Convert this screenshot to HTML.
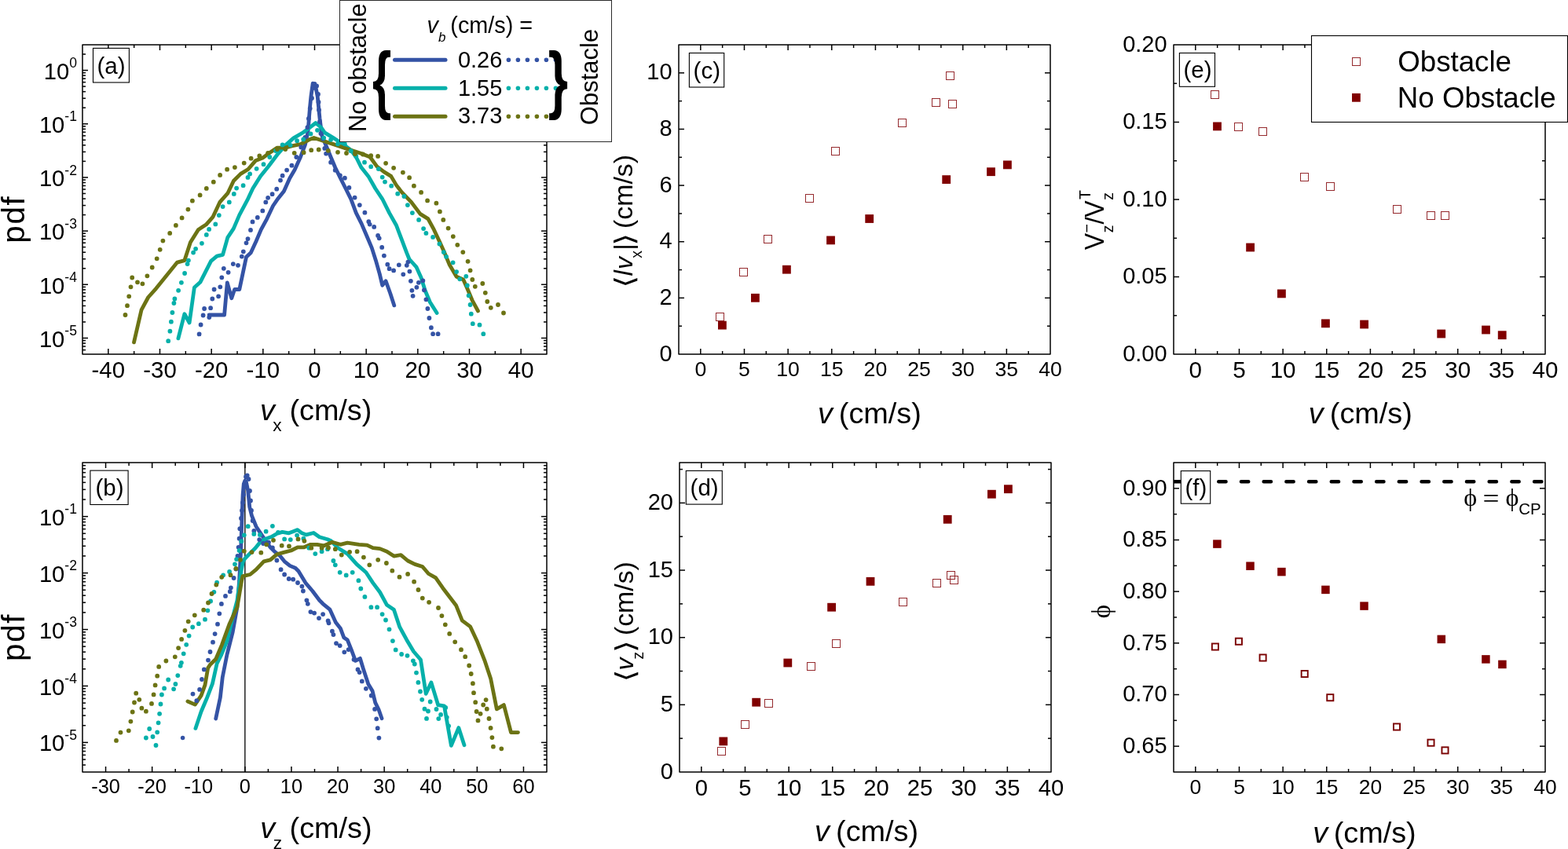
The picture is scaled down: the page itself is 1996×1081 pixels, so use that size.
<!DOCTYPE html>
<html><head><meta charset="utf-8"><title>figure</title>
<style>html,body{margin:0;padding:0;background:#fff;}svg{display:block;}</style>
</head><body>
<svg width="1996" height="1081" viewBox="0 0 1996 1081">
<rect width="100%" height="100%" fill="#fff"/>
<defs>
<clipPath id="cf"><rect x="1494" y="589" width="473" height="394"/></clipPath>
<clipPath id="ca"><rect x="105" y="57" width="591" height="394"/></clipPath>
<clipPath id="cb"><rect x="105" y="589" width="591" height="394"/></clipPath>
</defs>
<polyline points="266.1,401 285.6,401 289.3,359.8 294.8,379.8 298.6,368.5 304.8,368.5 313.5,327.3 319.3,321.8 326,307.3 332.3,292.4 339.8,278.6 347.6,262 354,252.7 361.4,243.5 368.8,226.9 375.1,216.3 382.5,200 388.4,184.4 392,168 394.5,136.6 395.9,122.8 398.2,106.1 400.5,108.9 402.4,113.5 404.2,122.8 405.6,136.6 407,150.5 408.4,161.6 410,173.3 415.6,186.7 421.1,200 426.7,213.3 433.3,226.7 440,240 446.7,253.3 453.3,271.1 460,284.4 466.7,300 473.3,315.6 478.9,333.3 483.3,348.9 486.7,363.3 491.1,357.8 496.7,373.3 501.8,388.9" fill="none" stroke="#3453a5" stroke-width="4.8" stroke-linecap="round" stroke-linejoin="round" clip-path="url(#ca)"/>
<polyline points="226.9,430.9 234.9,399.7 241.1,411 247.4,366 254.9,359.3 268.6,332.3 276.1,326.1 283.6,324.3 289.8,302.3 297.3,291.1 304.8,273.6 314.8,254.9 321.8,240 331.5,224.4 341.8,211.8 352.9,197 364,184.4 373.6,175.9 386.2,168.5 394.7,162.1 401.9,156.5 409,162.5 413.3,168.9 424.4,175.6 437.8,184.4 446.7,191.1 453.3,200 460,213.3 468.9,224.4 477.8,240 486.7,253.3 495.6,271.1 504.4,286.7 511.1,304.4 517.8,322.2 521,330 529.9,339.8 536.1,353.5 541.1,369.8 547.4,384.8 556.1,398.5" fill="none" stroke="#05b0aa" stroke-width="4.8" stroke-linecap="round" stroke-linejoin="round" clip-path="url(#ca)"/>
<polyline points="170.5,435.9 180,394.7 188.7,378.5 198.7,367.3 214.9,347.3 225.6,334.1 234.9,331.6 242.4,308.6 252.4,292.4 262.3,286.1 271.1,276.1 279.8,257.4 289.8,246.2 297.4,230.3 306.3,221.4 315.9,215.5 325.5,204.4 334.4,201.1 341.8,195.5 352.9,188.1 363.3,188.1 371.4,185.9 382.5,183.7 393.6,177.8 399.6,175.5 413.3,180 426.7,184.4 440,188.9 453.3,193.3 460,195.6 471.1,200 480,212.2 488.9,218.9 497.8,224.4 504.4,235.6 511.1,244.4 523.6,257.4 534.9,272.4 544.9,278.6 552.4,292.4 559.9,308.6 566.1,322.3 572.3,337.3 581.1,352.3 589.8,356 594.8,367.3 601.1,382.3 608.5,396" fill="none" stroke="#6c7314" stroke-width="4.8" stroke-linecap="round" stroke-linejoin="round" clip-path="url(#ca)"/>
<path d="M253.6 425.4h0M255.6 413.5h0M258.6 401.5h0M260.1 393h0M266.3 404h0M268.1 392.2h0M270.3 380.5h0M272.6 368.5h0M278.1 377.3h0M280.3 365.3h0M282.3 353.3h0M284.8 341.8h0M290.6 346.8h0M296.8 336.1h0M303 337.8h0M307.8 326.6h0M309.8 320.3h0M313.5 309.3h0M315.5 304.1h0M319 292.9h0M321.5 282.4h0M327.8 276.9h0M334.3 268.4h0M338.3 257.4h0M341.1 251.8h0M346.6 247.2h0M352.2 240.7h0M357 229.6h0M359.6 223.7h0M365.1 216.6h0M371.4 210.7h0M377.3 200h0M383.3 187.4h0M388.4 174.8h0M391.4 162.2h0M392.9 151h0M394.7 138.1h0M397 125h0M398.5 112h0M400.5 107h0M403.1 109.4h0M405 120h0M405.5 130h0M406 140h0M407 155h0M408.4 170h0M411.1 176.7h0M413.3 188.9h0M415.1 195.6h0M421.1 206.7h0M426.7 216.7h0M432.9 223.3h0M438.9 226.7h0M444.4 238.9h0M451.6 251.6h0M457.8 261.1h0M464.4 270.7h0M469.3 282.2h0M470.7 285.6h0M476.2 288.9h0M481.1 300h0M482.7 303.3h0M486.2 314.9h0M488.9 325.6h0M493.3 336.7h0M495.6 342.2h0M501.1 344.4h0M507.8 337.3h0M513.3 349.3h0M517.8 337.8h0M519.4 333.6h0M521.4 345.6h0M522.9 357.8h0M524.4 369.8h0M525.6 376.8h0M530.4 365.8h0M532.9 359.8h0M538.4 357.3h0M539.9 369.3h0M542.4 381.3h0M544.4 393h0M546.4 405h0M548.9 417.2h0M551.1 425.2h0M557.6 425.2h0" fill="none" stroke="#3453a5" stroke-width="5.8" stroke-linecap="round" clip-path="url(#ca)"/>
<path d="M214.2 434.2h0M216.4 421.7h0M217.9 409.7h0M219.4 398h0M221.4 386h0M222.4 380.5h0M227.1 369.8h0M230.9 359.8h0M235.1 348h0M238.6 336.1h0M239.9 331.6h0M246.1 321.6h0M249.1 316.8h0M256.9 309.8h0M262.8 298.9h0M266.1 291.9h0M274.3 285.4h0M278.8 274.1h0M283.6 263.1h0M291.8 257.4h0M297.8 246.9h0M301.1 239.6h0M309.6 236.2h0M315.5 225.9h0M318.1 221.4h0M326.6 214.8h0M335.5 209.2h0M343.3 200h0M351 192h0M359.6 184.4h0M369.6 184.8h0M378.1 179.2h0M386.2 177.4h0M395.5 170.4h0M404 165.8h0M412.2 175.6h0M421.1 177.8h0M430 183.3h0M438.9 183.3h0M446.7 192.2h0M453.3 198.9h0M464 206.7h0M472.2 212.2h0M481.8 215.1h0M486.7 225.6h0M490 231.6h0M498.2 236.7h0M506.2 246.7h0M514.4 250h0M518.9 261.1h0M524.9 271.1h0M533.1 279.9h0M539.1 291.1h0M542.4 296.9h0M551.1 301.9h0M559.4 310.6h0M564.8 321.1h0M568.1 326.8h0M576.6 334.3h0M581.1 346.1h0M585.3 355.3h0M593.3 351.8h0M594.8 363.5h0M596.6 376.3h0M598.6 388h0M599.8 399.7h0M601.8 412.2h0M610.5 413.7h0M615.3 425.2h0" fill="none" stroke="#05b0aa" stroke-width="5.8" stroke-linecap="round" clip-path="url(#ca)"/>
<path d="M159.5 401h0M162 389.2h0M164.2 377.3h0M166.5 365.3h0M168.2 353.5h0M175 359.3h0M181.4 361.3h0M187.4 351.3h0M193.7 340.5h0M199.7 329.3h0M203.7 317.8h0M207.4 306.6h0M216.2 296.9h0M223.9 286.9h0M231.6 277.4h0M239.4 266.6h0M244.9 255.7h0M254.6 248.4h0M262.8 239.9h0M271.8 231.7h0M280.1 222.9h0M289.1 215.7h0M298.9 213.1h0M310.7 207.6h0M319.6 201.7h0M330.3 198.5h0M341.1 194.8h0M352.9 190h0M363.3 190h0M374.7 194.8h0M386.6 194.2h0M396.2 191.2h0M405.7 190.5h0M417.8 191.8h0M430 193.8h0M441 195h0M452 196h0M462 196.5h0M472.2 198.2h0M481.1 198.9h0M491.1 207.8h0M501.1 213.8h0M512.9 219.6h0M521.1 226.2h0M526.9 236.7h0M536.1 244.9h0M544.1 255.4h0M555.4 258.7h0M559.9 269.4h0M564.3 279.9h0M570.6 290.6h0M576.8 301.1h0M582.3 311.8h0M589.3 321.1h0M595.6 332.8h0M598.6 344.3h0M601.3 356h0M604.8 364.8h0M614.3 361h0M617.8 372.8h0M620.3 384h0M624.8 391.8h0M634 388h0M641 398.5h0" fill="none" stroke="#6c7314" stroke-width="5.8" stroke-linecap="round" clip-path="url(#ca)"/>
<rect x="105" y="57" width="591" height="394" fill="none" stroke="#000" stroke-width="1.5" stroke-linejoin="round"/>
<line x1="137.83" y1="451" x2="137.83" y2="444" stroke="#000" stroke-width="1.5"/>
<line x1="137.83" y1="57" x2="137.83" y2="64" stroke="#000" stroke-width="1.5"/>
<line x1="203.5" y1="451" x2="203.5" y2="444" stroke="#000" stroke-width="1.5"/>
<line x1="203.5" y1="57" x2="203.5" y2="64" stroke="#000" stroke-width="1.5"/>
<line x1="269.17" y1="451" x2="269.17" y2="444" stroke="#000" stroke-width="1.5"/>
<line x1="269.17" y1="57" x2="269.17" y2="64" stroke="#000" stroke-width="1.5"/>
<line x1="334.83" y1="451" x2="334.83" y2="444" stroke="#000" stroke-width="1.5"/>
<line x1="334.83" y1="57" x2="334.83" y2="64" stroke="#000" stroke-width="1.5"/>
<line x1="400.5" y1="451" x2="400.5" y2="444" stroke="#000" stroke-width="1.5"/>
<line x1="400.5" y1="57" x2="400.5" y2="64" stroke="#000" stroke-width="1.5"/>
<line x1="466.17" y1="451" x2="466.17" y2="444" stroke="#000" stroke-width="1.5"/>
<line x1="466.17" y1="57" x2="466.17" y2="64" stroke="#000" stroke-width="1.5"/>
<line x1="531.83" y1="451" x2="531.83" y2="444" stroke="#000" stroke-width="1.5"/>
<line x1="531.83" y1="57" x2="531.83" y2="64" stroke="#000" stroke-width="1.5"/>
<line x1="597.5" y1="451" x2="597.5" y2="444" stroke="#000" stroke-width="1.5"/>
<line x1="597.5" y1="57" x2="597.5" y2="64" stroke="#000" stroke-width="1.5"/>
<line x1="663.17" y1="451" x2="663.17" y2="444" stroke="#000" stroke-width="1.5"/>
<line x1="663.17" y1="57" x2="663.17" y2="64" stroke="#000" stroke-width="1.5"/>
<line x1="170.67" y1="451" x2="170.67" y2="447" stroke="#000" stroke-width="1.5"/>
<line x1="170.67" y1="57" x2="170.67" y2="61" stroke="#000" stroke-width="1.5"/>
<line x1="236.33" y1="451" x2="236.33" y2="447" stroke="#000" stroke-width="1.5"/>
<line x1="236.33" y1="57" x2="236.33" y2="61" stroke="#000" stroke-width="1.5"/>
<line x1="302" y1="451" x2="302" y2="447" stroke="#000" stroke-width="1.5"/>
<line x1="302" y1="57" x2="302" y2="61" stroke="#000" stroke-width="1.5"/>
<line x1="367.67" y1="451" x2="367.67" y2="447" stroke="#000" stroke-width="1.5"/>
<line x1="367.67" y1="57" x2="367.67" y2="61" stroke="#000" stroke-width="1.5"/>
<line x1="433.33" y1="451" x2="433.33" y2="447" stroke="#000" stroke-width="1.5"/>
<line x1="433.33" y1="57" x2="433.33" y2="61" stroke="#000" stroke-width="1.5"/>
<line x1="499" y1="451" x2="499" y2="447" stroke="#000" stroke-width="1.5"/>
<line x1="499" y1="57" x2="499" y2="61" stroke="#000" stroke-width="1.5"/>
<line x1="564.67" y1="451" x2="564.67" y2="447" stroke="#000" stroke-width="1.5"/>
<line x1="564.67" y1="57" x2="564.67" y2="61" stroke="#000" stroke-width="1.5"/>
<line x1="630.33" y1="451" x2="630.33" y2="447" stroke="#000" stroke-width="1.5"/>
<line x1="630.33" y1="57" x2="630.33" y2="61" stroke="#000" stroke-width="1.5"/>
<line x1="105" y1="430.47" x2="112" y2="430.47" stroke="#000" stroke-width="1.5"/>
<line x1="696" y1="430.47" x2="689" y2="430.47" stroke="#000" stroke-width="1.5"/>
<line x1="105" y1="362.29" x2="112" y2="362.29" stroke="#000" stroke-width="1.5"/>
<line x1="696" y1="362.29" x2="689" y2="362.29" stroke="#000" stroke-width="1.5"/>
<line x1="105" y1="294.1" x2="112" y2="294.1" stroke="#000" stroke-width="1.5"/>
<line x1="696" y1="294.1" x2="689" y2="294.1" stroke="#000" stroke-width="1.5"/>
<line x1="105" y1="225.91" x2="112" y2="225.91" stroke="#000" stroke-width="1.5"/>
<line x1="696" y1="225.91" x2="689" y2="225.91" stroke="#000" stroke-width="1.5"/>
<line x1="105" y1="157.72" x2="112" y2="157.72" stroke="#000" stroke-width="1.5"/>
<line x1="696" y1="157.72" x2="689" y2="157.72" stroke="#000" stroke-width="1.5"/>
<line x1="105" y1="89.53" x2="112" y2="89.53" stroke="#000" stroke-width="1.5"/>
<line x1="696" y1="89.53" x2="689" y2="89.53" stroke="#000" stroke-width="1.5"/>
<line x1="105" y1="445.6" x2="109" y2="445.6" stroke="#000" stroke-width="1.5"/>
<line x1="696" y1="445.6" x2="692" y2="445.6" stroke="#000" stroke-width="1.5"/>
<line x1="105" y1="441.04" x2="109" y2="441.04" stroke="#000" stroke-width="1.5"/>
<line x1="696" y1="441.04" x2="692" y2="441.04" stroke="#000" stroke-width="1.5"/>
<line x1="105" y1="437.08" x2="109" y2="437.08" stroke="#000" stroke-width="1.5"/>
<line x1="696" y1="437.08" x2="692" y2="437.08" stroke="#000" stroke-width="1.5"/>
<line x1="105" y1="433.59" x2="109" y2="433.59" stroke="#000" stroke-width="1.5"/>
<line x1="696" y1="433.59" x2="692" y2="433.59" stroke="#000" stroke-width="1.5"/>
<line x1="105" y1="409.95" x2="109" y2="409.95" stroke="#000" stroke-width="1.5"/>
<line x1="696" y1="409.95" x2="692" y2="409.95" stroke="#000" stroke-width="1.5"/>
<line x1="105" y1="397.94" x2="109" y2="397.94" stroke="#000" stroke-width="1.5"/>
<line x1="696" y1="397.94" x2="692" y2="397.94" stroke="#000" stroke-width="1.5"/>
<line x1="105" y1="389.42" x2="109" y2="389.42" stroke="#000" stroke-width="1.5"/>
<line x1="696" y1="389.42" x2="692" y2="389.42" stroke="#000" stroke-width="1.5"/>
<line x1="105" y1="382.81" x2="109" y2="382.81" stroke="#000" stroke-width="1.5"/>
<line x1="696" y1="382.81" x2="692" y2="382.81" stroke="#000" stroke-width="1.5"/>
<line x1="105" y1="377.41" x2="109" y2="377.41" stroke="#000" stroke-width="1.5"/>
<line x1="696" y1="377.41" x2="692" y2="377.41" stroke="#000" stroke-width="1.5"/>
<line x1="105" y1="372.85" x2="109" y2="372.85" stroke="#000" stroke-width="1.5"/>
<line x1="696" y1="372.85" x2="692" y2="372.85" stroke="#000" stroke-width="1.5"/>
<line x1="105" y1="368.89" x2="109" y2="368.89" stroke="#000" stroke-width="1.5"/>
<line x1="696" y1="368.89" x2="692" y2="368.89" stroke="#000" stroke-width="1.5"/>
<line x1="105" y1="365.41" x2="109" y2="365.41" stroke="#000" stroke-width="1.5"/>
<line x1="696" y1="365.41" x2="692" y2="365.41" stroke="#000" stroke-width="1.5"/>
<line x1="105" y1="341.76" x2="109" y2="341.76" stroke="#000" stroke-width="1.5"/>
<line x1="696" y1="341.76" x2="692" y2="341.76" stroke="#000" stroke-width="1.5"/>
<line x1="105" y1="329.75" x2="109" y2="329.75" stroke="#000" stroke-width="1.5"/>
<line x1="696" y1="329.75" x2="692" y2="329.75" stroke="#000" stroke-width="1.5"/>
<line x1="105" y1="321.23" x2="109" y2="321.23" stroke="#000" stroke-width="1.5"/>
<line x1="696" y1="321.23" x2="692" y2="321.23" stroke="#000" stroke-width="1.5"/>
<line x1="105" y1="314.62" x2="109" y2="314.62" stroke="#000" stroke-width="1.5"/>
<line x1="696" y1="314.62" x2="692" y2="314.62" stroke="#000" stroke-width="1.5"/>
<line x1="105" y1="309.22" x2="109" y2="309.22" stroke="#000" stroke-width="1.5"/>
<line x1="696" y1="309.22" x2="692" y2="309.22" stroke="#000" stroke-width="1.5"/>
<line x1="105" y1="304.66" x2="109" y2="304.66" stroke="#000" stroke-width="1.5"/>
<line x1="696" y1="304.66" x2="692" y2="304.66" stroke="#000" stroke-width="1.5"/>
<line x1="105" y1="300.71" x2="109" y2="300.71" stroke="#000" stroke-width="1.5"/>
<line x1="696" y1="300.71" x2="692" y2="300.71" stroke="#000" stroke-width="1.5"/>
<line x1="105" y1="297.22" x2="109" y2="297.22" stroke="#000" stroke-width="1.5"/>
<line x1="696" y1="297.22" x2="692" y2="297.22" stroke="#000" stroke-width="1.5"/>
<line x1="105" y1="273.57" x2="109" y2="273.57" stroke="#000" stroke-width="1.5"/>
<line x1="696" y1="273.57" x2="692" y2="273.57" stroke="#000" stroke-width="1.5"/>
<line x1="105" y1="261.56" x2="109" y2="261.56" stroke="#000" stroke-width="1.5"/>
<line x1="696" y1="261.56" x2="692" y2="261.56" stroke="#000" stroke-width="1.5"/>
<line x1="105" y1="253.04" x2="109" y2="253.04" stroke="#000" stroke-width="1.5"/>
<line x1="696" y1="253.04" x2="692" y2="253.04" stroke="#000" stroke-width="1.5"/>
<line x1="105" y1="246.44" x2="109" y2="246.44" stroke="#000" stroke-width="1.5"/>
<line x1="696" y1="246.44" x2="692" y2="246.44" stroke="#000" stroke-width="1.5"/>
<line x1="105" y1="241.04" x2="109" y2="241.04" stroke="#000" stroke-width="1.5"/>
<line x1="696" y1="241.04" x2="692" y2="241.04" stroke="#000" stroke-width="1.5"/>
<line x1="105" y1="236.47" x2="109" y2="236.47" stroke="#000" stroke-width="1.5"/>
<line x1="696" y1="236.47" x2="692" y2="236.47" stroke="#000" stroke-width="1.5"/>
<line x1="105" y1="232.52" x2="109" y2="232.52" stroke="#000" stroke-width="1.5"/>
<line x1="696" y1="232.52" x2="692" y2="232.52" stroke="#000" stroke-width="1.5"/>
<line x1="105" y1="229.03" x2="109" y2="229.03" stroke="#000" stroke-width="1.5"/>
<line x1="696" y1="229.03" x2="692" y2="229.03" stroke="#000" stroke-width="1.5"/>
<line x1="105" y1="205.38" x2="109" y2="205.38" stroke="#000" stroke-width="1.5"/>
<line x1="696" y1="205.38" x2="692" y2="205.38" stroke="#000" stroke-width="1.5"/>
<line x1="105" y1="193.38" x2="109" y2="193.38" stroke="#000" stroke-width="1.5"/>
<line x1="696" y1="193.38" x2="692" y2="193.38" stroke="#000" stroke-width="1.5"/>
<line x1="105" y1="184.86" x2="109" y2="184.86" stroke="#000" stroke-width="1.5"/>
<line x1="696" y1="184.86" x2="692" y2="184.86" stroke="#000" stroke-width="1.5"/>
<line x1="105" y1="178.25" x2="109" y2="178.25" stroke="#000" stroke-width="1.5"/>
<line x1="696" y1="178.25" x2="692" y2="178.25" stroke="#000" stroke-width="1.5"/>
<line x1="105" y1="172.85" x2="109" y2="172.85" stroke="#000" stroke-width="1.5"/>
<line x1="696" y1="172.85" x2="692" y2="172.85" stroke="#000" stroke-width="1.5"/>
<line x1="105" y1="168.28" x2="109" y2="168.28" stroke="#000" stroke-width="1.5"/>
<line x1="696" y1="168.28" x2="692" y2="168.28" stroke="#000" stroke-width="1.5"/>
<line x1="105" y1="164.33" x2="109" y2="164.33" stroke="#000" stroke-width="1.5"/>
<line x1="696" y1="164.33" x2="692" y2="164.33" stroke="#000" stroke-width="1.5"/>
<line x1="105" y1="160.84" x2="109" y2="160.84" stroke="#000" stroke-width="1.5"/>
<line x1="696" y1="160.84" x2="692" y2="160.84" stroke="#000" stroke-width="1.5"/>
<line x1="105" y1="137.2" x2="109" y2="137.2" stroke="#000" stroke-width="1.5"/>
<line x1="696" y1="137.2" x2="692" y2="137.2" stroke="#000" stroke-width="1.5"/>
<line x1="105" y1="125.19" x2="109" y2="125.19" stroke="#000" stroke-width="1.5"/>
<line x1="696" y1="125.19" x2="692" y2="125.19" stroke="#000" stroke-width="1.5"/>
<line x1="105" y1="116.67" x2="109" y2="116.67" stroke="#000" stroke-width="1.5"/>
<line x1="696" y1="116.67" x2="692" y2="116.67" stroke="#000" stroke-width="1.5"/>
<line x1="105" y1="110.06" x2="109" y2="110.06" stroke="#000" stroke-width="1.5"/>
<line x1="696" y1="110.06" x2="692" y2="110.06" stroke="#000" stroke-width="1.5"/>
<line x1="105" y1="104.66" x2="109" y2="104.66" stroke="#000" stroke-width="1.5"/>
<line x1="696" y1="104.66" x2="692" y2="104.66" stroke="#000" stroke-width="1.5"/>
<line x1="105" y1="100.1" x2="109" y2="100.1" stroke="#000" stroke-width="1.5"/>
<line x1="696" y1="100.1" x2="692" y2="100.1" stroke="#000" stroke-width="1.5"/>
<line x1="105" y1="96.14" x2="109" y2="96.14" stroke="#000" stroke-width="1.5"/>
<line x1="696" y1="96.14" x2="692" y2="96.14" stroke="#000" stroke-width="1.5"/>
<line x1="105" y1="92.65" x2="109" y2="92.65" stroke="#000" stroke-width="1.5"/>
<line x1="696" y1="92.65" x2="692" y2="92.65" stroke="#000" stroke-width="1.5"/>
<line x1="105" y1="69.01" x2="109" y2="69.01" stroke="#000" stroke-width="1.5"/>
<line x1="696" y1="69.01" x2="692" y2="69.01" stroke="#000" stroke-width="1.5"/>
<text x="137.83" y="481.1" font-size="29.4" text-anchor="middle" font-family="'Liberation Sans', Arial, Helvetica, sans-serif">-40</text>
<text x="203.5" y="481.1" font-size="29.4" text-anchor="middle" font-family="'Liberation Sans', Arial, Helvetica, sans-serif">-30</text>
<text x="269.17" y="481.1" font-size="29.4" text-anchor="middle" font-family="'Liberation Sans', Arial, Helvetica, sans-serif">-20</text>
<text x="334.83" y="481.1" font-size="29.4" text-anchor="middle" font-family="'Liberation Sans', Arial, Helvetica, sans-serif">-10</text>
<text x="400.5" y="481.1" font-size="29.4" text-anchor="middle" font-family="'Liberation Sans', Arial, Helvetica, sans-serif">0</text>
<text x="466.17" y="481.1" font-size="29.4" text-anchor="middle" font-family="'Liberation Sans', Arial, Helvetica, sans-serif">10</text>
<text x="531.83" y="481.1" font-size="29.4" text-anchor="middle" font-family="'Liberation Sans', Arial, Helvetica, sans-serif">20</text>
<text x="597.5" y="481.1" font-size="29.4" text-anchor="middle" font-family="'Liberation Sans', Arial, Helvetica, sans-serif">30</text>
<text x="663.17" y="481.1" font-size="29.4" text-anchor="middle" font-family="'Liberation Sans', Arial, Helvetica, sans-serif">40</text>
<text x="98" y="441.77" font-size="29.2" text-anchor="end" font-family="'Liberation Sans', Arial, Helvetica, sans-serif">10<tspan dy="-14.6" font-size="17.6">-5</tspan></text>
<text x="98" y="373.59" font-size="29.2" text-anchor="end" font-family="'Liberation Sans', Arial, Helvetica, sans-serif">10<tspan dy="-14.6" font-size="17.6">-4</tspan></text>
<text x="98" y="305.4" font-size="29.2" text-anchor="end" font-family="'Liberation Sans', Arial, Helvetica, sans-serif">10<tspan dy="-14.6" font-size="17.6">-3</tspan></text>
<text x="98" y="237.21" font-size="29.2" text-anchor="end" font-family="'Liberation Sans', Arial, Helvetica, sans-serif">10<tspan dy="-14.6" font-size="17.6">-2</tspan></text>
<text x="98" y="169.02" font-size="29.2" text-anchor="end" font-family="'Liberation Sans', Arial, Helvetica, sans-serif">10<tspan dy="-14.6" font-size="17.6">-1</tspan></text>
<text x="98" y="100.83" font-size="29.2" text-anchor="end" font-family="'Liberation Sans', Arial, Helvetica, sans-serif">10<tspan dy="-14.6" font-size="17.6">0</tspan></text>
<rect x="118.5" y="61.4" width="45.9" height="43.6" fill="#fff" stroke="#000" stroke-width="1.1"/>
<text x="141.5" y="93.8" font-size="29.5" text-anchor="middle" font-family="'Liberation Sans', Arial, Helvetica, sans-serif">(a)</text>
<line x1="311.85" y1="589" x2="311.85" y2="983" stroke="#000" stroke-width="1.3"/>
<polyline points="274.7,915.1 280.4,887.9 283.3,862.1 289,833.4 296.2,804.8 301.9,773.2 304.6,739.8 306.6,701 308,659.4 309.1,630 310.3,616 311.8,612 313.5,614 315.7,624.7 317.7,645.5 320.5,656.6 326.1,670.5 331.6,678.8 337.2,687.1 344.1,696.8 349.6,702.4 356.6,707.9 362.1,714.8 369.1,720.4 376,723.2 380,727.3 388.9,742.1 397.8,752.5 406.6,764.3 411.1,768.8 420,776.2 427.4,792.5 433.3,799.9 437.7,811.7 442.2,814.7 448.1,829.5 452.5,841.3 458.4,838.3 462.9,853.1 468.8,870.9 474.1,879.8 477.7,894.6 482.1,903.5 486,914.7" fill="none" stroke="#3453a5" stroke-width="4.8" stroke-linecap="round" stroke-linejoin="round" clip-path="url(#cb)"/>
<polyline points="248.9,927.4 256.1,906 263.2,889.3 270.4,870.7 276.1,844.9 281.9,833.4 289,816.2 296.2,786.1 301.9,764.6 305.3,739.8 307,727 309.4,714.8 312.2,710.7 317.7,705.1 324.7,698.2 331.6,689.9 337.2,686.4 345.5,683.6 352.4,679.5 359.4,677.4 367.7,678.8 373.2,676.7 378.8,674.6 384.3,678.8 389.9,680.9 399.2,678.5 406.6,683.8 417,686.8 421.4,688.8 430.3,697.7 442.2,705.1 454,718.4 465.9,728.8 474.7,742.1 483.6,754 492.5,770.3 501.4,776.2 508.8,798.4 517.7,814.7 526.5,829.5 535.5,840 542.2,883.3 548.9,868.9 557.7,897.7 565.5,898.8 574.4,949.3 583.8,926.6 591,948.8" fill="none" stroke="#05b0aa" stroke-width="4.8" stroke-linecap="round" stroke-linejoin="round" clip-path="url(#cb)"/>
<polyline points="238.9,893 248.3,897.1 256.1,885.6 261,872.1 264.7,850.6 267.5,846.3 274.7,839.2 282.4,821.1 291.9,794.7 301.9,773.2 305,755 307.5,740 309,733.5 312.2,732.9 318.4,731.5 326.1,725.2 335.8,714.8 344.1,712.8 352.4,705.8 362.1,703.1 370.5,701 378.8,696.8 387.1,696.8 395.4,693.3 403.7,693.3 412.6,694.8 422.9,690.3 433.3,693.3 442.2,691.2 457,693.3 467.3,694.2 474.7,697.7 483.6,698.6 492.5,702.2 501.4,708.1 510.3,706.6 519.1,714 528,718.4 537.8,721.5 545.5,730.5 554.6,735.7 563.7,748.7 571.5,759 580.5,770.7 588.3,790.1 598.7,797.9 607.7,817.3 616.8,840.6 624.6,863.9 632.3,902.8 641.4,897.6 650.5,932.6 659.5,932.6" fill="none" stroke="#6c7314" stroke-width="4.8" stroke-linecap="round" stroke-linejoin="round" clip-path="url(#cb)"/>
<path d="M245.5 883.6h0M250.3 892.2h0M254.1 877.9h0M256.9 865h0M259.8 852.4h0M265 840.6h0M267.5 830h0M271 817.7h0M273.6 807.1h0M277 794.7h0M279.3 781.3h0M281.9 768.9h0M287 758.9h0M292.8 753.2h0M293.9 748.3h0M297.6 736h0M300.4 724.6h0M302.5 707.9h0M303.6 696.8h0M304.6 685.7h0M305.3 673.2h0M307 660h0M308 650h0M309 640h0M310 630h0M311 620h0M313 607h0M314.7 605.3h0M316.5 610h0M318 625h0M319 637.5h0M320 650h0M321.65 663h0M323.3 676h0M330.2 687.1h0M335.1 692h0M342 690.6h0M346.9 697.5h0M352.4 713.5h0M357.6 725.2h0M362.1 731.5h0M367.7 737h0M373.2 737.7h0M379 742h0M384.4 746.6h0M385.9 752.5h0M390.4 764.3h0M391.8 768.8h0M395.4 779.1h0M400.1 780.6h0M406 787.1h0M411.1 782.1h0M417.6 790.4h0M418.5 793.3h0M422.9 803.7h0M424.4 808.1h0M428 819.1h0M432.7 822.1h0M438.3 830.3h0M443.6 827.1h0M450.5 839.8h0M455.5 852.5h0M457.6 856.1h0M460.8 867.4h0M465.9 876.8h0M472.7 885.7h0M477.1 902.9h0M479.2 915.3h0M480.7 927.2h0M482.4 939.6h0" fill="none" stroke="#3453a5" stroke-width="5.8" stroke-linecap="round" clip-path="url(#cb)"/>
<path d="M185.9 939.5h0M190.2 928h0M194.5 938h0M198.5 949h0M200.2 932.3h0M201.6 920.3h0M203.1 908.8h0M204.5 896.5h0M205.9 884.5h0M209.1 876.4h0M214.2 865.5h0M221.1 877.3h0M223.4 871h0M226.3 860.1h0M229.7 847.8h0M230.9 843.8h0M233.7 832.3h0M237.2 820.8h0M240.6 809.6h0M245.2 798.5h0M252.9 794.2h0M261 788.7h0M264.4 777.3h0M268.1 765.5h0M272.4 753.8h0M276.1 741.7h0M284.2 732.3h0M292.1 728h0M299 718.3h0M301.1 712.1h0M304.6 701h0M307.3 689.2h0M310.8 681.3h0M315.7 670.2h0M323.3 679.9h0M330.9 680.9h0M338.6 676.7h0M346.9 669.8h0M354 678h0M362.1 686.4h0M369.8 687.1h0M378.1 681.6h0M386.4 685.7h0M393.3 697.7h0M401.3 705.1h0M409.6 702.2h0M417 699.2h0M424.4 714h0M426.8 719.3h0M432.7 728.8h0M440.7 732.4h0M448.7 728.8h0M456.4 739.2h0M459.3 749.5h0M464.4 759.9h0M472.4 773.2h0M480.1 773.2h0M486.6 782.1h0M491 789.5h0M495.5 801.3h0M499.9 816.1h0M503.7 827.4h0M511.1 833h0M518.5 834.8h0M525.9 841.3h0M527.8 845.5h0M530 856.6h0M532.4 868.9h0M535 880.5h0M537.2 890.8h0M540.5 902.7h0M543 914.9h0M545 905.5h0M547.7 893.5h0M555.5 903h0M558.3 915.1h0M561.1 909.9h0M567.2 901h0M568.8 913.3h0M571.1 924.3h0" fill="none" stroke="#05b0aa" stroke-width="5.8" stroke-linecap="round" clip-path="url(#cb)"/>
<path d="M148 942.9h0M153.5 932.6h0M163.8 930.3h0M166.4 918.6h0M168.7 906.5h0M171 894.5h0M173.2 882.7h0M177.3 890.8h0M180.4 901.7h0M185.9 905.7h0M193 895.9h0M195.6 884.4h0M197.6 872.4h0M200.2 860.7h0M202.2 848.9h0M211.4 841.5h0M222.8 836.3h0M227.1 825.1h0M231.1 813.9h0M235.4 802.8h0M239.7 791.3h0M247.8 783.3h0M259.2 776.7h0M265 767.5h0M269.5 756h0M275.3 744.6h0M282.2 734.8h0M293.5 732.2h0M300.4 723.9h0M306 712.8h0M310.8 701.7h0M320.5 703.1h0M332.3 703.7h0M339.2 693.3h0M348 687.8h0M358.7 694.7h0M368 695.4h0M379.5 686.4h0M387.4 688.8h0M396.3 697.7h0M409.6 697.7h0M418 697.5h0M426.8 699.2h0M434.8 706.6h0M445.1 702.8h0M454.6 702.2h0M462.9 709.6h0M470.3 719.3h0M481.2 712.8h0M491.9 717h0M499.3 726.7h0M508.5 734.7h0M519.1 730.9h0M527.1 740.7h0M532.5 751h0M537.8 761.6h0M546.1 766.8h0M558 774h0M562.4 784.1h0M566.8 795.3h0M572.2 806.9h0M579.2 817.3h0M587 827.2h0M592.2 836.2h0M597.2 847.5h0M599.7 858h0M601.9 870.2h0M603 882.2h0M605.2 894.2h0M606.6 906h0M608.5 917.4h0M611.6 908.8h0M615.2 897.5h0M618.6 891.1h0M619.8 902.7h0M622.5 915h0M624.6 926.9h0M626.4 939.1h0M627.9 950.7h0M638.3 953.3h0" fill="none" stroke="#6c7314" stroke-width="5.8" stroke-linecap="round" clip-path="url(#cb)"/>
<circle cx="232.6" cy="939.5" r="2.75" fill="#3453a5"/>
<rect x="105" y="589" width="591" height="394" fill="none" stroke="#000" stroke-width="1.5" stroke-linejoin="round"/>
<line x1="134.55" y1="983" x2="134.55" y2="976" stroke="#000" stroke-width="1.5"/>
<line x1="134.55" y1="589" x2="134.55" y2="596" stroke="#000" stroke-width="1.5"/>
<line x1="193.65" y1="983" x2="193.65" y2="976" stroke="#000" stroke-width="1.5"/>
<line x1="193.65" y1="589" x2="193.65" y2="596" stroke="#000" stroke-width="1.5"/>
<line x1="252.75" y1="983" x2="252.75" y2="976" stroke="#000" stroke-width="1.5"/>
<line x1="252.75" y1="589" x2="252.75" y2="596" stroke="#000" stroke-width="1.5"/>
<line x1="311.85" y1="983" x2="311.85" y2="976" stroke="#000" stroke-width="1.5"/>
<line x1="311.85" y1="589" x2="311.85" y2="596" stroke="#000" stroke-width="1.5"/>
<line x1="370.95" y1="983" x2="370.95" y2="976" stroke="#000" stroke-width="1.5"/>
<line x1="370.95" y1="589" x2="370.95" y2="596" stroke="#000" stroke-width="1.5"/>
<line x1="430.05" y1="983" x2="430.05" y2="976" stroke="#000" stroke-width="1.5"/>
<line x1="430.05" y1="589" x2="430.05" y2="596" stroke="#000" stroke-width="1.5"/>
<line x1="489.15" y1="983" x2="489.15" y2="976" stroke="#000" stroke-width="1.5"/>
<line x1="489.15" y1="589" x2="489.15" y2="596" stroke="#000" stroke-width="1.5"/>
<line x1="548.25" y1="983" x2="548.25" y2="976" stroke="#000" stroke-width="1.5"/>
<line x1="548.25" y1="589" x2="548.25" y2="596" stroke="#000" stroke-width="1.5"/>
<line x1="607.35" y1="983" x2="607.35" y2="976" stroke="#000" stroke-width="1.5"/>
<line x1="607.35" y1="589" x2="607.35" y2="596" stroke="#000" stroke-width="1.5"/>
<line x1="666.45" y1="983" x2="666.45" y2="976" stroke="#000" stroke-width="1.5"/>
<line x1="666.45" y1="589" x2="666.45" y2="596" stroke="#000" stroke-width="1.5"/>
<line x1="164.1" y1="983" x2="164.1" y2="979" stroke="#000" stroke-width="1.5"/>
<line x1="164.1" y1="589" x2="164.1" y2="593" stroke="#000" stroke-width="1.5"/>
<line x1="223.2" y1="983" x2="223.2" y2="979" stroke="#000" stroke-width="1.5"/>
<line x1="223.2" y1="589" x2="223.2" y2="593" stroke="#000" stroke-width="1.5"/>
<line x1="282.3" y1="983" x2="282.3" y2="979" stroke="#000" stroke-width="1.5"/>
<line x1="282.3" y1="589" x2="282.3" y2="593" stroke="#000" stroke-width="1.5"/>
<line x1="341.4" y1="983" x2="341.4" y2="979" stroke="#000" stroke-width="1.5"/>
<line x1="341.4" y1="589" x2="341.4" y2="593" stroke="#000" stroke-width="1.5"/>
<line x1="400.5" y1="983" x2="400.5" y2="979" stroke="#000" stroke-width="1.5"/>
<line x1="400.5" y1="589" x2="400.5" y2="593" stroke="#000" stroke-width="1.5"/>
<line x1="459.6" y1="983" x2="459.6" y2="979" stroke="#000" stroke-width="1.5"/>
<line x1="459.6" y1="589" x2="459.6" y2="593" stroke="#000" stroke-width="1.5"/>
<line x1="518.7" y1="983" x2="518.7" y2="979" stroke="#000" stroke-width="1.5"/>
<line x1="518.7" y1="589" x2="518.7" y2="593" stroke="#000" stroke-width="1.5"/>
<line x1="577.8" y1="983" x2="577.8" y2="979" stroke="#000" stroke-width="1.5"/>
<line x1="577.8" y1="589" x2="577.8" y2="593" stroke="#000" stroke-width="1.5"/>
<line x1="636.9" y1="983" x2="636.9" y2="979" stroke="#000" stroke-width="1.5"/>
<line x1="636.9" y1="589" x2="636.9" y2="593" stroke="#000" stroke-width="1.5"/>
<line x1="105" y1="945.39" x2="112" y2="945.39" stroke="#000" stroke-width="1.5"/>
<line x1="696" y1="945.39" x2="689" y2="945.39" stroke="#000" stroke-width="1.5"/>
<line x1="105" y1="873.45" x2="112" y2="873.45" stroke="#000" stroke-width="1.5"/>
<line x1="696" y1="873.45" x2="689" y2="873.45" stroke="#000" stroke-width="1.5"/>
<line x1="105" y1="801.52" x2="112" y2="801.52" stroke="#000" stroke-width="1.5"/>
<line x1="696" y1="801.52" x2="689" y2="801.52" stroke="#000" stroke-width="1.5"/>
<line x1="105" y1="729.58" x2="112" y2="729.58" stroke="#000" stroke-width="1.5"/>
<line x1="696" y1="729.58" x2="689" y2="729.58" stroke="#000" stroke-width="1.5"/>
<line x1="105" y1="657.64" x2="112" y2="657.64" stroke="#000" stroke-width="1.5"/>
<line x1="696" y1="657.64" x2="689" y2="657.64" stroke="#000" stroke-width="1.5"/>
<line x1="105" y1="974.01" x2="109" y2="974.01" stroke="#000" stroke-width="1.5"/>
<line x1="696" y1="974.01" x2="692" y2="974.01" stroke="#000" stroke-width="1.5"/>
<line x1="105" y1="967.04" x2="109" y2="967.04" stroke="#000" stroke-width="1.5"/>
<line x1="696" y1="967.04" x2="692" y2="967.04" stroke="#000" stroke-width="1.5"/>
<line x1="105" y1="961.35" x2="109" y2="961.35" stroke="#000" stroke-width="1.5"/>
<line x1="696" y1="961.35" x2="692" y2="961.35" stroke="#000" stroke-width="1.5"/>
<line x1="105" y1="956.53" x2="109" y2="956.53" stroke="#000" stroke-width="1.5"/>
<line x1="696" y1="956.53" x2="692" y2="956.53" stroke="#000" stroke-width="1.5"/>
<line x1="105" y1="952.36" x2="109" y2="952.36" stroke="#000" stroke-width="1.5"/>
<line x1="696" y1="952.36" x2="692" y2="952.36" stroke="#000" stroke-width="1.5"/>
<line x1="105" y1="948.68" x2="109" y2="948.68" stroke="#000" stroke-width="1.5"/>
<line x1="696" y1="948.68" x2="692" y2="948.68" stroke="#000" stroke-width="1.5"/>
<line x1="105" y1="923.73" x2="109" y2="923.73" stroke="#000" stroke-width="1.5"/>
<line x1="696" y1="923.73" x2="692" y2="923.73" stroke="#000" stroke-width="1.5"/>
<line x1="105" y1="911.06" x2="109" y2="911.06" stroke="#000" stroke-width="1.5"/>
<line x1="696" y1="911.06" x2="692" y2="911.06" stroke="#000" stroke-width="1.5"/>
<line x1="105" y1="902.08" x2="109" y2="902.08" stroke="#000" stroke-width="1.5"/>
<line x1="696" y1="902.08" x2="692" y2="902.08" stroke="#000" stroke-width="1.5"/>
<line x1="105" y1="895.11" x2="109" y2="895.11" stroke="#000" stroke-width="1.5"/>
<line x1="696" y1="895.11" x2="692" y2="895.11" stroke="#000" stroke-width="1.5"/>
<line x1="105" y1="889.41" x2="109" y2="889.41" stroke="#000" stroke-width="1.5"/>
<line x1="696" y1="889.41" x2="692" y2="889.41" stroke="#000" stroke-width="1.5"/>
<line x1="105" y1="884.59" x2="109" y2="884.59" stroke="#000" stroke-width="1.5"/>
<line x1="696" y1="884.59" x2="692" y2="884.59" stroke="#000" stroke-width="1.5"/>
<line x1="105" y1="880.42" x2="109" y2="880.42" stroke="#000" stroke-width="1.5"/>
<line x1="696" y1="880.42" x2="692" y2="880.42" stroke="#000" stroke-width="1.5"/>
<line x1="105" y1="876.74" x2="109" y2="876.74" stroke="#000" stroke-width="1.5"/>
<line x1="696" y1="876.74" x2="692" y2="876.74" stroke="#000" stroke-width="1.5"/>
<line x1="105" y1="851.8" x2="109" y2="851.8" stroke="#000" stroke-width="1.5"/>
<line x1="696" y1="851.8" x2="692" y2="851.8" stroke="#000" stroke-width="1.5"/>
<line x1="105" y1="839.13" x2="109" y2="839.13" stroke="#000" stroke-width="1.5"/>
<line x1="696" y1="839.13" x2="692" y2="839.13" stroke="#000" stroke-width="1.5"/>
<line x1="105" y1="830.14" x2="109" y2="830.14" stroke="#000" stroke-width="1.5"/>
<line x1="696" y1="830.14" x2="692" y2="830.14" stroke="#000" stroke-width="1.5"/>
<line x1="105" y1="823.17" x2="109" y2="823.17" stroke="#000" stroke-width="1.5"/>
<line x1="696" y1="823.17" x2="692" y2="823.17" stroke="#000" stroke-width="1.5"/>
<line x1="105" y1="817.47" x2="109" y2="817.47" stroke="#000" stroke-width="1.5"/>
<line x1="696" y1="817.47" x2="692" y2="817.47" stroke="#000" stroke-width="1.5"/>
<line x1="105" y1="812.66" x2="109" y2="812.66" stroke="#000" stroke-width="1.5"/>
<line x1="696" y1="812.66" x2="692" y2="812.66" stroke="#000" stroke-width="1.5"/>
<line x1="105" y1="808.49" x2="109" y2="808.49" stroke="#000" stroke-width="1.5"/>
<line x1="696" y1="808.49" x2="692" y2="808.49" stroke="#000" stroke-width="1.5"/>
<line x1="105" y1="804.81" x2="109" y2="804.81" stroke="#000" stroke-width="1.5"/>
<line x1="696" y1="804.81" x2="692" y2="804.81" stroke="#000" stroke-width="1.5"/>
<line x1="105" y1="779.86" x2="109" y2="779.86" stroke="#000" stroke-width="1.5"/>
<line x1="696" y1="779.86" x2="692" y2="779.86" stroke="#000" stroke-width="1.5"/>
<line x1="105" y1="767.19" x2="109" y2="767.19" stroke="#000" stroke-width="1.5"/>
<line x1="696" y1="767.19" x2="692" y2="767.19" stroke="#000" stroke-width="1.5"/>
<line x1="105" y1="758.21" x2="109" y2="758.21" stroke="#000" stroke-width="1.5"/>
<line x1="696" y1="758.21" x2="692" y2="758.21" stroke="#000" stroke-width="1.5"/>
<line x1="105" y1="751.23" x2="109" y2="751.23" stroke="#000" stroke-width="1.5"/>
<line x1="696" y1="751.23" x2="692" y2="751.23" stroke="#000" stroke-width="1.5"/>
<line x1="105" y1="745.54" x2="109" y2="745.54" stroke="#000" stroke-width="1.5"/>
<line x1="696" y1="745.54" x2="692" y2="745.54" stroke="#000" stroke-width="1.5"/>
<line x1="105" y1="740.72" x2="109" y2="740.72" stroke="#000" stroke-width="1.5"/>
<line x1="696" y1="740.72" x2="692" y2="740.72" stroke="#000" stroke-width="1.5"/>
<line x1="105" y1="736.55" x2="109" y2="736.55" stroke="#000" stroke-width="1.5"/>
<line x1="696" y1="736.55" x2="692" y2="736.55" stroke="#000" stroke-width="1.5"/>
<line x1="105" y1="732.87" x2="109" y2="732.87" stroke="#000" stroke-width="1.5"/>
<line x1="696" y1="732.87" x2="692" y2="732.87" stroke="#000" stroke-width="1.5"/>
<line x1="105" y1="707.92" x2="109" y2="707.92" stroke="#000" stroke-width="1.5"/>
<line x1="696" y1="707.92" x2="692" y2="707.92" stroke="#000" stroke-width="1.5"/>
<line x1="105" y1="695.26" x2="109" y2="695.26" stroke="#000" stroke-width="1.5"/>
<line x1="696" y1="695.26" x2="692" y2="695.26" stroke="#000" stroke-width="1.5"/>
<line x1="105" y1="686.27" x2="109" y2="686.27" stroke="#000" stroke-width="1.5"/>
<line x1="696" y1="686.27" x2="692" y2="686.27" stroke="#000" stroke-width="1.5"/>
<line x1="105" y1="679.3" x2="109" y2="679.3" stroke="#000" stroke-width="1.5"/>
<line x1="696" y1="679.3" x2="692" y2="679.3" stroke="#000" stroke-width="1.5"/>
<line x1="105" y1="673.6" x2="109" y2="673.6" stroke="#000" stroke-width="1.5"/>
<line x1="696" y1="673.6" x2="692" y2="673.6" stroke="#000" stroke-width="1.5"/>
<line x1="105" y1="668.79" x2="109" y2="668.79" stroke="#000" stroke-width="1.5"/>
<line x1="696" y1="668.79" x2="692" y2="668.79" stroke="#000" stroke-width="1.5"/>
<line x1="105" y1="664.62" x2="109" y2="664.62" stroke="#000" stroke-width="1.5"/>
<line x1="696" y1="664.62" x2="692" y2="664.62" stroke="#000" stroke-width="1.5"/>
<line x1="105" y1="660.94" x2="109" y2="660.94" stroke="#000" stroke-width="1.5"/>
<line x1="696" y1="660.94" x2="692" y2="660.94" stroke="#000" stroke-width="1.5"/>
<line x1="105" y1="635.99" x2="109" y2="635.99" stroke="#000" stroke-width="1.5"/>
<line x1="696" y1="635.99" x2="692" y2="635.99" stroke="#000" stroke-width="1.5"/>
<line x1="105" y1="623.32" x2="109" y2="623.32" stroke="#000" stroke-width="1.5"/>
<line x1="696" y1="623.32" x2="692" y2="623.32" stroke="#000" stroke-width="1.5"/>
<line x1="105" y1="614.33" x2="109" y2="614.33" stroke="#000" stroke-width="1.5"/>
<line x1="696" y1="614.33" x2="692" y2="614.33" stroke="#000" stroke-width="1.5"/>
<line x1="105" y1="607.36" x2="109" y2="607.36" stroke="#000" stroke-width="1.5"/>
<line x1="696" y1="607.36" x2="692" y2="607.36" stroke="#000" stroke-width="1.5"/>
<line x1="105" y1="601.67" x2="109" y2="601.67" stroke="#000" stroke-width="1.5"/>
<line x1="696" y1="601.67" x2="692" y2="601.67" stroke="#000" stroke-width="1.5"/>
<line x1="105" y1="596.85" x2="109" y2="596.85" stroke="#000" stroke-width="1.5"/>
<line x1="696" y1="596.85" x2="692" y2="596.85" stroke="#000" stroke-width="1.5"/>
<line x1="105" y1="592.68" x2="109" y2="592.68" stroke="#000" stroke-width="1.5"/>
<line x1="696" y1="592.68" x2="692" y2="592.68" stroke="#000" stroke-width="1.5"/>
<text x="134.55" y="1009.9" font-size="25.4" text-anchor="middle" font-family="'Liberation Sans', Arial, Helvetica, sans-serif">-30</text>
<text x="193.65" y="1009.9" font-size="25.4" text-anchor="middle" font-family="'Liberation Sans', Arial, Helvetica, sans-serif">-20</text>
<text x="252.75" y="1009.9" font-size="25.4" text-anchor="middle" font-family="'Liberation Sans', Arial, Helvetica, sans-serif">-10</text>
<text x="311.85" y="1009.9" font-size="25.4" text-anchor="middle" font-family="'Liberation Sans', Arial, Helvetica, sans-serif">0</text>
<text x="370.95" y="1009.9" font-size="25.4" text-anchor="middle" font-family="'Liberation Sans', Arial, Helvetica, sans-serif">10</text>
<text x="430.05" y="1009.9" font-size="25.4" text-anchor="middle" font-family="'Liberation Sans', Arial, Helvetica, sans-serif">20</text>
<text x="489.15" y="1009.9" font-size="25.4" text-anchor="middle" font-family="'Liberation Sans', Arial, Helvetica, sans-serif">30</text>
<text x="548.25" y="1009.9" font-size="25.4" text-anchor="middle" font-family="'Liberation Sans', Arial, Helvetica, sans-serif">40</text>
<text x="607.35" y="1009.9" font-size="25.4" text-anchor="middle" font-family="'Liberation Sans', Arial, Helvetica, sans-serif">50</text>
<text x="666.45" y="1009.9" font-size="25.4" text-anchor="middle" font-family="'Liberation Sans', Arial, Helvetica, sans-serif">60</text>
<text x="98" y="956.49" font-size="29.2" text-anchor="end" font-family="'Liberation Sans', Arial, Helvetica, sans-serif">10<tspan dy="-14.3" font-size="17.6">-5</tspan></text>
<text x="98" y="884.55" font-size="29.2" text-anchor="end" font-family="'Liberation Sans', Arial, Helvetica, sans-serif">10<tspan dy="-14.3" font-size="17.6">-4</tspan></text>
<text x="98" y="812.62" font-size="29.2" text-anchor="end" font-family="'Liberation Sans', Arial, Helvetica, sans-serif">10<tspan dy="-14.3" font-size="17.6">-3</tspan></text>
<text x="98" y="740.68" font-size="29.2" text-anchor="end" font-family="'Liberation Sans', Arial, Helvetica, sans-serif">10<tspan dy="-14.3" font-size="17.6">-2</tspan></text>
<text x="98" y="668.74" font-size="29.2" text-anchor="end" font-family="'Liberation Sans', Arial, Helvetica, sans-serif">10<tspan dy="-14.3" font-size="17.6">-1</tspan></text>
<rect x="114.9" y="599.1" width="48.2" height="43.4" fill="#fff" stroke="#000" stroke-width="1.1"/>
<text x="139.5" y="630.9" font-size="29.5" text-anchor="middle" font-family="'Liberation Sans', Arial, Helvetica, sans-serif">(b)</text>
<rect x="864" y="57" width="473" height="394" fill="none" stroke="#000" stroke-width="1.5" stroke-linejoin="round"/>
<line x1="891.82" y1="451" x2="891.82" y2="444" stroke="#000" stroke-width="1.5"/>
<line x1="891.82" y1="57" x2="891.82" y2="64" stroke="#000" stroke-width="1.5"/>
<line x1="947.47" y1="451" x2="947.47" y2="444" stroke="#000" stroke-width="1.5"/>
<line x1="947.47" y1="57" x2="947.47" y2="64" stroke="#000" stroke-width="1.5"/>
<line x1="1003.12" y1="451" x2="1003.12" y2="444" stroke="#000" stroke-width="1.5"/>
<line x1="1003.12" y1="57" x2="1003.12" y2="64" stroke="#000" stroke-width="1.5"/>
<line x1="1058.76" y1="451" x2="1058.76" y2="444" stroke="#000" stroke-width="1.5"/>
<line x1="1058.76" y1="57" x2="1058.76" y2="64" stroke="#000" stroke-width="1.5"/>
<line x1="1114.41" y1="451" x2="1114.41" y2="444" stroke="#000" stroke-width="1.5"/>
<line x1="1114.41" y1="57" x2="1114.41" y2="64" stroke="#000" stroke-width="1.5"/>
<line x1="1170.06" y1="451" x2="1170.06" y2="444" stroke="#000" stroke-width="1.5"/>
<line x1="1170.06" y1="57" x2="1170.06" y2="64" stroke="#000" stroke-width="1.5"/>
<line x1="1225.71" y1="451" x2="1225.71" y2="444" stroke="#000" stroke-width="1.5"/>
<line x1="1225.71" y1="57" x2="1225.71" y2="64" stroke="#000" stroke-width="1.5"/>
<line x1="1281.35" y1="451" x2="1281.35" y2="444" stroke="#000" stroke-width="1.5"/>
<line x1="1281.35" y1="57" x2="1281.35" y2="64" stroke="#000" stroke-width="1.5"/>
<line x1="919.65" y1="451" x2="919.65" y2="447" stroke="#000" stroke-width="1.5"/>
<line x1="919.65" y1="57" x2="919.65" y2="61" stroke="#000" stroke-width="1.5"/>
<line x1="975.29" y1="451" x2="975.29" y2="447" stroke="#000" stroke-width="1.5"/>
<line x1="975.29" y1="57" x2="975.29" y2="61" stroke="#000" stroke-width="1.5"/>
<line x1="1030.94" y1="451" x2="1030.94" y2="447" stroke="#000" stroke-width="1.5"/>
<line x1="1030.94" y1="57" x2="1030.94" y2="61" stroke="#000" stroke-width="1.5"/>
<line x1="1086.59" y1="451" x2="1086.59" y2="447" stroke="#000" stroke-width="1.5"/>
<line x1="1086.59" y1="57" x2="1086.59" y2="61" stroke="#000" stroke-width="1.5"/>
<line x1="1142.24" y1="451" x2="1142.24" y2="447" stroke="#000" stroke-width="1.5"/>
<line x1="1142.24" y1="57" x2="1142.24" y2="61" stroke="#000" stroke-width="1.5"/>
<line x1="1197.88" y1="451" x2="1197.88" y2="447" stroke="#000" stroke-width="1.5"/>
<line x1="1197.88" y1="57" x2="1197.88" y2="61" stroke="#000" stroke-width="1.5"/>
<line x1="1253.53" y1="451" x2="1253.53" y2="447" stroke="#000" stroke-width="1.5"/>
<line x1="1253.53" y1="57" x2="1253.53" y2="61" stroke="#000" stroke-width="1.5"/>
<line x1="1309.18" y1="451" x2="1309.18" y2="447" stroke="#000" stroke-width="1.5"/>
<line x1="1309.18" y1="57" x2="1309.18" y2="61" stroke="#000" stroke-width="1.5"/>
<line x1="864" y1="379.36" x2="871" y2="379.36" stroke="#000" stroke-width="1.5"/>
<line x1="1337" y1="379.36" x2="1330" y2="379.36" stroke="#000" stroke-width="1.5"/>
<line x1="864" y1="307.73" x2="871" y2="307.73" stroke="#000" stroke-width="1.5"/>
<line x1="1337" y1="307.73" x2="1330" y2="307.73" stroke="#000" stroke-width="1.5"/>
<line x1="864" y1="236.09" x2="871" y2="236.09" stroke="#000" stroke-width="1.5"/>
<line x1="1337" y1="236.09" x2="1330" y2="236.09" stroke="#000" stroke-width="1.5"/>
<line x1="864" y1="164.45" x2="871" y2="164.45" stroke="#000" stroke-width="1.5"/>
<line x1="1337" y1="164.45" x2="1330" y2="164.45" stroke="#000" stroke-width="1.5"/>
<line x1="864" y1="92.82" x2="871" y2="92.82" stroke="#000" stroke-width="1.5"/>
<line x1="1337" y1="92.82" x2="1330" y2="92.82" stroke="#000" stroke-width="1.5"/>
<line x1="864" y1="415.18" x2="868" y2="415.18" stroke="#000" stroke-width="1.5"/>
<line x1="1337" y1="415.18" x2="1333" y2="415.18" stroke="#000" stroke-width="1.5"/>
<line x1="864" y1="343.55" x2="868" y2="343.55" stroke="#000" stroke-width="1.5"/>
<line x1="1337" y1="343.55" x2="1333" y2="343.55" stroke="#000" stroke-width="1.5"/>
<line x1="864" y1="271.91" x2="868" y2="271.91" stroke="#000" stroke-width="1.5"/>
<line x1="1337" y1="271.91" x2="1333" y2="271.91" stroke="#000" stroke-width="1.5"/>
<line x1="864" y1="200.27" x2="868" y2="200.27" stroke="#000" stroke-width="1.5"/>
<line x1="1337" y1="200.27" x2="1333" y2="200.27" stroke="#000" stroke-width="1.5"/>
<line x1="864" y1="128.64" x2="868" y2="128.64" stroke="#000" stroke-width="1.5"/>
<line x1="1337" y1="128.64" x2="1333" y2="128.64" stroke="#000" stroke-width="1.5"/>
<text x="891.82" y="478.6" font-size="26.6" text-anchor="middle" font-family="'Liberation Sans', Arial, Helvetica, sans-serif">0</text>
<text x="947.47" y="478.6" font-size="26.6" text-anchor="middle" font-family="'Liberation Sans', Arial, Helvetica, sans-serif">5</text>
<text x="1003.12" y="478.6" font-size="26.6" text-anchor="middle" font-family="'Liberation Sans', Arial, Helvetica, sans-serif">10</text>
<text x="1058.76" y="478.6" font-size="26.6" text-anchor="middle" font-family="'Liberation Sans', Arial, Helvetica, sans-serif">15</text>
<text x="1114.41" y="478.6" font-size="26.6" text-anchor="middle" font-family="'Liberation Sans', Arial, Helvetica, sans-serif">20</text>
<text x="1170.06" y="478.6" font-size="26.6" text-anchor="middle" font-family="'Liberation Sans', Arial, Helvetica, sans-serif">25</text>
<text x="1225.71" y="478.6" font-size="26.6" text-anchor="middle" font-family="'Liberation Sans', Arial, Helvetica, sans-serif">30</text>
<text x="1281.35" y="478.6" font-size="26.6" text-anchor="middle" font-family="'Liberation Sans', Arial, Helvetica, sans-serif">35</text>
<text x="1337" y="478.6" font-size="26.6" text-anchor="middle" font-family="'Liberation Sans', Arial, Helvetica, sans-serif">40</text>
<text x="855.6" y="459.6" font-size="29" text-anchor="end" font-family="'Liberation Sans', Arial, Helvetica, sans-serif">0</text>
<text x="855.6" y="387.96" font-size="29" text-anchor="end" font-family="'Liberation Sans', Arial, Helvetica, sans-serif">2</text>
<text x="855.6" y="316.33" font-size="29" text-anchor="end" font-family="'Liberation Sans', Arial, Helvetica, sans-serif">4</text>
<text x="855.6" y="244.69" font-size="29" text-anchor="end" font-family="'Liberation Sans', Arial, Helvetica, sans-serif">6</text>
<text x="855.6" y="173.05" font-size="29" text-anchor="end" font-family="'Liberation Sans', Arial, Helvetica, sans-serif">8</text>
<text x="855.6" y="101.42" font-size="29" text-anchor="end" font-family="'Liberation Sans', Arial, Helvetica, sans-serif">10</text>
<rect x="911.5" y="398.5" width="10" height="10" fill="none" stroke="#952a2e" stroke-width="1"/>
<rect x="941.5" y="341.5" width="10" height="10" fill="none" stroke="#952a2e" stroke-width="1"/>
<rect x="972.5" y="299.5" width="10" height="10" fill="none" stroke="#952a2e" stroke-width="1"/>
<rect x="1025.5" y="247.5" width="10" height="10" fill="none" stroke="#952a2e" stroke-width="1"/>
<rect x="1058.5" y="187.5" width="10" height="10" fill="none" stroke="#952a2e" stroke-width="1"/>
<rect x="1143.5" y="151.5" width="10" height="10" fill="none" stroke="#952a2e" stroke-width="1"/>
<rect x="1186.5" y="125.5" width="10" height="10" fill="none" stroke="#952a2e" stroke-width="1"/>
<rect x="1204.5" y="91.5" width="10" height="10" fill="none" stroke="#952a2e" stroke-width="1"/>
<rect x="1207.5" y="127.5" width="10" height="10" fill="none" stroke="#952a2e" stroke-width="1"/>
<rect x="914" y="408.7" width="10.8" height="10.8" fill="#800000"/>
<rect x="956" y="373.9" width="10.8" height="10.8" fill="#800000"/>
<rect x="996" y="337.8" width="10.8" height="10.8" fill="#800000"/>
<rect x="1052.1" y="300.5" width="10.8" height="10.8" fill="#800000"/>
<rect x="1101.3" y="273.1" width="10.8" height="10.8" fill="#800000"/>
<rect x="1199.3" y="223.2" width="10.8" height="10.8" fill="#800000"/>
<rect x="1256.1" y="213.3" width="10.8" height="10.8" fill="#800000"/>
<rect x="1277" y="204.5" width="10.8" height="10.8" fill="#800000"/>
<rect x="877.4" y="67.5" width="44.3" height="43.5" fill="#fff" stroke="#000" stroke-width="1.1"/>
<text x="899.8" y="99.5" font-size="29.5" text-anchor="middle" font-family="'Liberation Sans', Arial, Helvetica, sans-serif">(c)</text>
<rect x="865" y="589" width="473" height="394" fill="none" stroke="#000" stroke-width="1.5" stroke-linejoin="round"/>
<line x1="892.82" y1="983" x2="892.82" y2="976" stroke="#000" stroke-width="1.5"/>
<line x1="892.82" y1="589" x2="892.82" y2="596" stroke="#000" stroke-width="1.5"/>
<line x1="948.47" y1="983" x2="948.47" y2="976" stroke="#000" stroke-width="1.5"/>
<line x1="948.47" y1="589" x2="948.47" y2="596" stroke="#000" stroke-width="1.5"/>
<line x1="1004.12" y1="983" x2="1004.12" y2="976" stroke="#000" stroke-width="1.5"/>
<line x1="1004.12" y1="589" x2="1004.12" y2="596" stroke="#000" stroke-width="1.5"/>
<line x1="1059.76" y1="983" x2="1059.76" y2="976" stroke="#000" stroke-width="1.5"/>
<line x1="1059.76" y1="589" x2="1059.76" y2="596" stroke="#000" stroke-width="1.5"/>
<line x1="1115.41" y1="983" x2="1115.41" y2="976" stroke="#000" stroke-width="1.5"/>
<line x1="1115.41" y1="589" x2="1115.41" y2="596" stroke="#000" stroke-width="1.5"/>
<line x1="1171.06" y1="983" x2="1171.06" y2="976" stroke="#000" stroke-width="1.5"/>
<line x1="1171.06" y1="589" x2="1171.06" y2="596" stroke="#000" stroke-width="1.5"/>
<line x1="1226.71" y1="983" x2="1226.71" y2="976" stroke="#000" stroke-width="1.5"/>
<line x1="1226.71" y1="589" x2="1226.71" y2="596" stroke="#000" stroke-width="1.5"/>
<line x1="1282.35" y1="983" x2="1282.35" y2="976" stroke="#000" stroke-width="1.5"/>
<line x1="1282.35" y1="589" x2="1282.35" y2="596" stroke="#000" stroke-width="1.5"/>
<line x1="920.65" y1="983" x2="920.65" y2="979" stroke="#000" stroke-width="1.5"/>
<line x1="920.65" y1="589" x2="920.65" y2="593" stroke="#000" stroke-width="1.5"/>
<line x1="976.29" y1="983" x2="976.29" y2="979" stroke="#000" stroke-width="1.5"/>
<line x1="976.29" y1="589" x2="976.29" y2="593" stroke="#000" stroke-width="1.5"/>
<line x1="1031.94" y1="983" x2="1031.94" y2="979" stroke="#000" stroke-width="1.5"/>
<line x1="1031.94" y1="589" x2="1031.94" y2="593" stroke="#000" stroke-width="1.5"/>
<line x1="1087.59" y1="983" x2="1087.59" y2="979" stroke="#000" stroke-width="1.5"/>
<line x1="1087.59" y1="589" x2="1087.59" y2="593" stroke="#000" stroke-width="1.5"/>
<line x1="1143.24" y1="983" x2="1143.24" y2="979" stroke="#000" stroke-width="1.5"/>
<line x1="1143.24" y1="589" x2="1143.24" y2="593" stroke="#000" stroke-width="1.5"/>
<line x1="1198.88" y1="983" x2="1198.88" y2="979" stroke="#000" stroke-width="1.5"/>
<line x1="1198.88" y1="589" x2="1198.88" y2="593" stroke="#000" stroke-width="1.5"/>
<line x1="1254.53" y1="983" x2="1254.53" y2="979" stroke="#000" stroke-width="1.5"/>
<line x1="1254.53" y1="589" x2="1254.53" y2="593" stroke="#000" stroke-width="1.5"/>
<line x1="1310.18" y1="983" x2="1310.18" y2="979" stroke="#000" stroke-width="1.5"/>
<line x1="1310.18" y1="589" x2="1310.18" y2="593" stroke="#000" stroke-width="1.5"/>
<line x1="865" y1="897.35" x2="872" y2="897.35" stroke="#000" stroke-width="1.5"/>
<line x1="1338" y1="897.35" x2="1331" y2="897.35" stroke="#000" stroke-width="1.5"/>
<line x1="865" y1="811.7" x2="872" y2="811.7" stroke="#000" stroke-width="1.5"/>
<line x1="1338" y1="811.7" x2="1331" y2="811.7" stroke="#000" stroke-width="1.5"/>
<line x1="865" y1="726.04" x2="872" y2="726.04" stroke="#000" stroke-width="1.5"/>
<line x1="1338" y1="726.04" x2="1331" y2="726.04" stroke="#000" stroke-width="1.5"/>
<line x1="865" y1="640.39" x2="872" y2="640.39" stroke="#000" stroke-width="1.5"/>
<line x1="1338" y1="640.39" x2="1331" y2="640.39" stroke="#000" stroke-width="1.5"/>
<line x1="865" y1="940.17" x2="869" y2="940.17" stroke="#000" stroke-width="1.5"/>
<line x1="1338" y1="940.17" x2="1334" y2="940.17" stroke="#000" stroke-width="1.5"/>
<line x1="865" y1="854.52" x2="869" y2="854.52" stroke="#000" stroke-width="1.5"/>
<line x1="1338" y1="854.52" x2="1334" y2="854.52" stroke="#000" stroke-width="1.5"/>
<line x1="865" y1="768.87" x2="869" y2="768.87" stroke="#000" stroke-width="1.5"/>
<line x1="1338" y1="768.87" x2="1334" y2="768.87" stroke="#000" stroke-width="1.5"/>
<line x1="865" y1="683.22" x2="869" y2="683.22" stroke="#000" stroke-width="1.5"/>
<line x1="1338" y1="683.22" x2="1334" y2="683.22" stroke="#000" stroke-width="1.5"/>
<line x1="865" y1="597.57" x2="869" y2="597.57" stroke="#000" stroke-width="1.5"/>
<line x1="1338" y1="597.57" x2="1334" y2="597.57" stroke="#000" stroke-width="1.5"/>
<text x="892.82" y="1013.1" font-size="29.2" text-anchor="middle" font-family="'Liberation Sans', Arial, Helvetica, sans-serif">0</text>
<text x="948.47" y="1013.1" font-size="29.2" text-anchor="middle" font-family="'Liberation Sans', Arial, Helvetica, sans-serif">5</text>
<text x="1004.12" y="1013.1" font-size="29.2" text-anchor="middle" font-family="'Liberation Sans', Arial, Helvetica, sans-serif">10</text>
<text x="1059.76" y="1013.1" font-size="29.2" text-anchor="middle" font-family="'Liberation Sans', Arial, Helvetica, sans-serif">15</text>
<text x="1115.41" y="1013.1" font-size="29.2" text-anchor="middle" font-family="'Liberation Sans', Arial, Helvetica, sans-serif">20</text>
<text x="1171.06" y="1013.1" font-size="29.2" text-anchor="middle" font-family="'Liberation Sans', Arial, Helvetica, sans-serif">25</text>
<text x="1226.71" y="1013.1" font-size="29.2" text-anchor="middle" font-family="'Liberation Sans', Arial, Helvetica, sans-serif">30</text>
<text x="1282.35" y="1013.1" font-size="29.2" text-anchor="middle" font-family="'Liberation Sans', Arial, Helvetica, sans-serif">35</text>
<text x="1338" y="1013.1" font-size="29.2" text-anchor="middle" font-family="'Liberation Sans', Arial, Helvetica, sans-serif">40</text>
<text x="856.9" y="991.6" font-size="29" text-anchor="end" font-family="'Liberation Sans', Arial, Helvetica, sans-serif">0</text>
<text x="856.9" y="905.95" font-size="29" text-anchor="end" font-family="'Liberation Sans', Arial, Helvetica, sans-serif">5</text>
<text x="856.9" y="820.3" font-size="29" text-anchor="end" font-family="'Liberation Sans', Arial, Helvetica, sans-serif">10</text>
<text x="856.9" y="734.64" font-size="29" text-anchor="end" font-family="'Liberation Sans', Arial, Helvetica, sans-serif">15</text>
<text x="856.9" y="648.99" font-size="29" text-anchor="end" font-family="'Liberation Sans', Arial, Helvetica, sans-serif">20</text>
<rect x="913.5" y="951.5" width="10" height="10" fill="none" stroke="#952a2e" stroke-width="1"/>
<rect x="943.5" y="917.5" width="10" height="10" fill="none" stroke="#952a2e" stroke-width="1"/>
<rect x="973.5" y="890.5" width="10" height="10" fill="none" stroke="#952a2e" stroke-width="1"/>
<rect x="1027.5" y="843.5" width="10" height="10" fill="none" stroke="#952a2e" stroke-width="1"/>
<rect x="1059.5" y="814.5" width="10" height="10" fill="none" stroke="#952a2e" stroke-width="1"/>
<rect x="1144.5" y="761.5" width="10" height="10" fill="none" stroke="#952a2e" stroke-width="1"/>
<rect x="1187.5" y="737.5" width="10" height="10" fill="none" stroke="#952a2e" stroke-width="1"/>
<rect x="1205.5" y="727.5" width="10" height="10" fill="none" stroke="#952a2e" stroke-width="1"/>
<rect x="1209.5" y="733.5" width="10" height="10" fill="none" stroke="#952a2e" stroke-width="1"/>
<rect x="915.4" y="938.5" width="10.8" height="10.8" fill="#800000"/>
<rect x="957.3" y="888.8" width="10.8" height="10.8" fill="#800000"/>
<rect x="997.4" y="838.6" width="10.8" height="10.8" fill="#800000"/>
<rect x="1053.2" y="767.8" width="10.8" height="10.8" fill="#800000"/>
<rect x="1102.6" y="734.9" width="10.8" height="10.8" fill="#800000"/>
<rect x="1200.8" y="655.9" width="10.8" height="10.8" fill="#800000"/>
<rect x="1257" y="623.8" width="10.8" height="10.8" fill="#800000"/>
<rect x="1278" y="617.3" width="10.8" height="10.8" fill="#800000"/>
<rect x="873.3" y="599.4" width="46" height="42.7" fill="#fff" stroke="#000" stroke-width="1.1"/>
<text x="896.6" y="631" font-size="29.5" text-anchor="middle" font-family="'Liberation Sans', Arial, Helvetica, sans-serif">(d)</text>
<rect x="1494" y="57" width="473" height="394" fill="none" stroke="#000" stroke-width="1.5" stroke-linejoin="round"/>
<line x1="1521.82" y1="451" x2="1521.82" y2="444" stroke="#000" stroke-width="1.5"/>
<line x1="1521.82" y1="57" x2="1521.82" y2="64" stroke="#000" stroke-width="1.5"/>
<line x1="1577.47" y1="451" x2="1577.47" y2="444" stroke="#000" stroke-width="1.5"/>
<line x1="1577.47" y1="57" x2="1577.47" y2="64" stroke="#000" stroke-width="1.5"/>
<line x1="1633.12" y1="451" x2="1633.12" y2="444" stroke="#000" stroke-width="1.5"/>
<line x1="1633.12" y1="57" x2="1633.12" y2="64" stroke="#000" stroke-width="1.5"/>
<line x1="1688.76" y1="451" x2="1688.76" y2="444" stroke="#000" stroke-width="1.5"/>
<line x1="1688.76" y1="57" x2="1688.76" y2="64" stroke="#000" stroke-width="1.5"/>
<line x1="1744.41" y1="451" x2="1744.41" y2="444" stroke="#000" stroke-width="1.5"/>
<line x1="1744.41" y1="57" x2="1744.41" y2="64" stroke="#000" stroke-width="1.5"/>
<line x1="1800.06" y1="451" x2="1800.06" y2="444" stroke="#000" stroke-width="1.5"/>
<line x1="1800.06" y1="57" x2="1800.06" y2="64" stroke="#000" stroke-width="1.5"/>
<line x1="1855.71" y1="451" x2="1855.71" y2="444" stroke="#000" stroke-width="1.5"/>
<line x1="1855.71" y1="57" x2="1855.71" y2="64" stroke="#000" stroke-width="1.5"/>
<line x1="1911.35" y1="451" x2="1911.35" y2="444" stroke="#000" stroke-width="1.5"/>
<line x1="1911.35" y1="57" x2="1911.35" y2="64" stroke="#000" stroke-width="1.5"/>
<line x1="1549.65" y1="451" x2="1549.65" y2="447" stroke="#000" stroke-width="1.5"/>
<line x1="1549.65" y1="57" x2="1549.65" y2="61" stroke="#000" stroke-width="1.5"/>
<line x1="1605.29" y1="451" x2="1605.29" y2="447" stroke="#000" stroke-width="1.5"/>
<line x1="1605.29" y1="57" x2="1605.29" y2="61" stroke="#000" stroke-width="1.5"/>
<line x1="1660.94" y1="451" x2="1660.94" y2="447" stroke="#000" stroke-width="1.5"/>
<line x1="1660.94" y1="57" x2="1660.94" y2="61" stroke="#000" stroke-width="1.5"/>
<line x1="1716.59" y1="451" x2="1716.59" y2="447" stroke="#000" stroke-width="1.5"/>
<line x1="1716.59" y1="57" x2="1716.59" y2="61" stroke="#000" stroke-width="1.5"/>
<line x1="1772.24" y1="451" x2="1772.24" y2="447" stroke="#000" stroke-width="1.5"/>
<line x1="1772.24" y1="57" x2="1772.24" y2="61" stroke="#000" stroke-width="1.5"/>
<line x1="1827.88" y1="451" x2="1827.88" y2="447" stroke="#000" stroke-width="1.5"/>
<line x1="1827.88" y1="57" x2="1827.88" y2="61" stroke="#000" stroke-width="1.5"/>
<line x1="1883.53" y1="451" x2="1883.53" y2="447" stroke="#000" stroke-width="1.5"/>
<line x1="1883.53" y1="57" x2="1883.53" y2="61" stroke="#000" stroke-width="1.5"/>
<line x1="1939.18" y1="451" x2="1939.18" y2="447" stroke="#000" stroke-width="1.5"/>
<line x1="1939.18" y1="57" x2="1939.18" y2="61" stroke="#000" stroke-width="1.5"/>
<line x1="1494" y1="352.5" x2="1501" y2="352.5" stroke="#000" stroke-width="1.5"/>
<line x1="1967" y1="352.5" x2="1960" y2="352.5" stroke="#000" stroke-width="1.5"/>
<line x1="1494" y1="254" x2="1501" y2="254" stroke="#000" stroke-width="1.5"/>
<line x1="1967" y1="254" x2="1960" y2="254" stroke="#000" stroke-width="1.5"/>
<line x1="1494" y1="155.5" x2="1501" y2="155.5" stroke="#000" stroke-width="1.5"/>
<line x1="1494" y1="401.75" x2="1498" y2="401.75" stroke="#000" stroke-width="1.5"/>
<line x1="1967" y1="401.75" x2="1963" y2="401.75" stroke="#000" stroke-width="1.5"/>
<line x1="1494" y1="303.25" x2="1498" y2="303.25" stroke="#000" stroke-width="1.5"/>
<line x1="1967" y1="303.25" x2="1963" y2="303.25" stroke="#000" stroke-width="1.5"/>
<line x1="1494" y1="204.75" x2="1498" y2="204.75" stroke="#000" stroke-width="1.5"/>
<line x1="1967" y1="204.75" x2="1963" y2="204.75" stroke="#000" stroke-width="1.5"/>
<line x1="1494" y1="106.25" x2="1498" y2="106.25" stroke="#000" stroke-width="1.5"/>
<text x="1521.82" y="481.3" font-size="29.6" text-anchor="middle" font-family="'Liberation Sans', Arial, Helvetica, sans-serif">0</text>
<text x="1577.47" y="481.3" font-size="29.6" text-anchor="middle" font-family="'Liberation Sans', Arial, Helvetica, sans-serif">5</text>
<text x="1633.12" y="481.3" font-size="29.6" text-anchor="middle" font-family="'Liberation Sans', Arial, Helvetica, sans-serif">10</text>
<text x="1688.76" y="481.3" font-size="29.6" text-anchor="middle" font-family="'Liberation Sans', Arial, Helvetica, sans-serif">15</text>
<text x="1744.41" y="481.3" font-size="29.6" text-anchor="middle" font-family="'Liberation Sans', Arial, Helvetica, sans-serif">20</text>
<text x="1800.06" y="481.3" font-size="29.6" text-anchor="middle" font-family="'Liberation Sans', Arial, Helvetica, sans-serif">25</text>
<text x="1855.71" y="481.3" font-size="29.6" text-anchor="middle" font-family="'Liberation Sans', Arial, Helvetica, sans-serif">30</text>
<text x="1911.35" y="481.3" font-size="29.6" text-anchor="middle" font-family="'Liberation Sans', Arial, Helvetica, sans-serif">35</text>
<text x="1967" y="481.3" font-size="29.6" text-anchor="middle" font-family="'Liberation Sans', Arial, Helvetica, sans-serif">40</text>
<text x="1485.6" y="459.6" font-size="29" text-anchor="end" font-family="'Liberation Sans', Arial, Helvetica, sans-serif">0.00</text>
<text x="1485.6" y="361.1" font-size="29" text-anchor="end" font-family="'Liberation Sans', Arial, Helvetica, sans-serif">0.05</text>
<text x="1485.6" y="262.6" font-size="29" text-anchor="end" font-family="'Liberation Sans', Arial, Helvetica, sans-serif">0.10</text>
<text x="1485.6" y="164.1" font-size="29" text-anchor="end" font-family="'Liberation Sans', Arial, Helvetica, sans-serif">0.15</text>
<text x="1485.6" y="65.6" font-size="29" text-anchor="end" font-family="'Liberation Sans', Arial, Helvetica, sans-serif">0.20</text>
<rect x="1541.5" y="115.5" width="10" height="10" fill="none" stroke="#952a2e" stroke-width="1"/>
<rect x="1571.5" y="156.5" width="10" height="10" fill="none" stroke="#952a2e" stroke-width="1"/>
<rect x="1602.5" y="162.5" width="10" height="10" fill="none" stroke="#952a2e" stroke-width="1"/>
<rect x="1655.5" y="220.5" width="10" height="10" fill="none" stroke="#952a2e" stroke-width="1"/>
<rect x="1688.5" y="232.5" width="10" height="10" fill="none" stroke="#952a2e" stroke-width="1"/>
<rect x="1773.5" y="261.5" width="10" height="10" fill="none" stroke="#952a2e" stroke-width="1"/>
<rect x="1816.5" y="269.5" width="10" height="10" fill="none" stroke="#952a2e" stroke-width="1"/>
<rect x="1834.5" y="269.5" width="10" height="10" fill="none" stroke="#952a2e" stroke-width="1"/>
<rect x="1544.1" y="155.5" width="10.8" height="10.8" fill="#800000"/>
<rect x="1586.2" y="309.6" width="10.8" height="10.8" fill="#800000"/>
<rect x="1626" y="368.5" width="10.8" height="10.8" fill="#800000"/>
<rect x="1682" y="406.4" width="10.8" height="10.8" fill="#800000"/>
<rect x="1731.2" y="407.6" width="10.8" height="10.8" fill="#800000"/>
<rect x="1829.3" y="419.6" width="10.8" height="10.8" fill="#800000"/>
<rect x="1886.1" y="414.6" width="10.8" height="10.8" fill="#800000"/>
<rect x="1906.8" y="421.3" width="10.8" height="10.8" fill="#800000"/>
<rect x="1501.4" y="67.5" width="45.1" height="42.8" fill="#fff" stroke="#000" stroke-width="1.1"/>
<text x="1524.5" y="98.9" font-size="29.5" text-anchor="middle" font-family="'Liberation Sans', Arial, Helvetica, sans-serif">(e)</text>
<line x1="1521.82" y1="983" x2="1521.82" y2="976" stroke="#000" stroke-width="1.5"/>
<line x1="1521.82" y1="589" x2="1521.82" y2="596" stroke="#000" stroke-width="1.5"/>
<line x1="1577.47" y1="983" x2="1577.47" y2="976" stroke="#000" stroke-width="1.5"/>
<line x1="1577.47" y1="589" x2="1577.47" y2="596" stroke="#000" stroke-width="1.5"/>
<line x1="1633.12" y1="983" x2="1633.12" y2="976" stroke="#000" stroke-width="1.5"/>
<line x1="1633.12" y1="589" x2="1633.12" y2="596" stroke="#000" stroke-width="1.5"/>
<line x1="1688.76" y1="983" x2="1688.76" y2="976" stroke="#000" stroke-width="1.5"/>
<line x1="1688.76" y1="589" x2="1688.76" y2="596" stroke="#000" stroke-width="1.5"/>
<line x1="1744.41" y1="983" x2="1744.41" y2="976" stroke="#000" stroke-width="1.5"/>
<line x1="1744.41" y1="589" x2="1744.41" y2="596" stroke="#000" stroke-width="1.5"/>
<line x1="1800.06" y1="983" x2="1800.06" y2="976" stroke="#000" stroke-width="1.5"/>
<line x1="1800.06" y1="589" x2="1800.06" y2="596" stroke="#000" stroke-width="1.5"/>
<line x1="1855.71" y1="983" x2="1855.71" y2="976" stroke="#000" stroke-width="1.5"/>
<line x1="1855.71" y1="589" x2="1855.71" y2="596" stroke="#000" stroke-width="1.5"/>
<line x1="1911.35" y1="983" x2="1911.35" y2="976" stroke="#000" stroke-width="1.5"/>
<line x1="1911.35" y1="589" x2="1911.35" y2="596" stroke="#000" stroke-width="1.5"/>
<line x1="1549.65" y1="983" x2="1549.65" y2="979" stroke="#000" stroke-width="1.5"/>
<line x1="1549.65" y1="589" x2="1549.65" y2="593" stroke="#000" stroke-width="1.5"/>
<line x1="1605.29" y1="983" x2="1605.29" y2="979" stroke="#000" stroke-width="1.5"/>
<line x1="1605.29" y1="589" x2="1605.29" y2="593" stroke="#000" stroke-width="1.5"/>
<line x1="1660.94" y1="983" x2="1660.94" y2="979" stroke="#000" stroke-width="1.5"/>
<line x1="1660.94" y1="589" x2="1660.94" y2="593" stroke="#000" stroke-width="1.5"/>
<line x1="1716.59" y1="983" x2="1716.59" y2="979" stroke="#000" stroke-width="1.5"/>
<line x1="1716.59" y1="589" x2="1716.59" y2="593" stroke="#000" stroke-width="1.5"/>
<line x1="1772.24" y1="983" x2="1772.24" y2="979" stroke="#000" stroke-width="1.5"/>
<line x1="1772.24" y1="589" x2="1772.24" y2="593" stroke="#000" stroke-width="1.5"/>
<line x1="1827.88" y1="983" x2="1827.88" y2="979" stroke="#000" stroke-width="1.5"/>
<line x1="1827.88" y1="589" x2="1827.88" y2="593" stroke="#000" stroke-width="1.5"/>
<line x1="1883.53" y1="983" x2="1883.53" y2="979" stroke="#000" stroke-width="1.5"/>
<line x1="1883.53" y1="589" x2="1883.53" y2="593" stroke="#000" stroke-width="1.5"/>
<line x1="1939.18" y1="983" x2="1939.18" y2="979" stroke="#000" stroke-width="1.5"/>
<line x1="1939.18" y1="589" x2="1939.18" y2="593" stroke="#000" stroke-width="1.5"/>
<line x1="1494" y1="950.17" x2="1501" y2="950.17" stroke="#000" stroke-width="1.5"/>
<line x1="1967" y1="950.17" x2="1960" y2="950.17" stroke="#000" stroke-width="1.5"/>
<line x1="1494" y1="884.5" x2="1501" y2="884.5" stroke="#000" stroke-width="1.5"/>
<line x1="1967" y1="884.5" x2="1960" y2="884.5" stroke="#000" stroke-width="1.5"/>
<line x1="1494" y1="818.83" x2="1501" y2="818.83" stroke="#000" stroke-width="1.5"/>
<line x1="1967" y1="818.83" x2="1960" y2="818.83" stroke="#000" stroke-width="1.5"/>
<line x1="1494" y1="753.17" x2="1501" y2="753.17" stroke="#000" stroke-width="1.5"/>
<line x1="1967" y1="753.17" x2="1960" y2="753.17" stroke="#000" stroke-width="1.5"/>
<line x1="1494" y1="687.5" x2="1501" y2="687.5" stroke="#000" stroke-width="1.5"/>
<line x1="1967" y1="687.5" x2="1960" y2="687.5" stroke="#000" stroke-width="1.5"/>
<line x1="1494" y1="621.83" x2="1501" y2="621.83" stroke="#000" stroke-width="1.5"/>
<line x1="1967" y1="621.83" x2="1960" y2="621.83" stroke="#000" stroke-width="1.5"/>
<line x1="1494" y1="917.33" x2="1498" y2="917.33" stroke="#000" stroke-width="1.5"/>
<line x1="1967" y1="917.33" x2="1963" y2="917.33" stroke="#000" stroke-width="1.5"/>
<line x1="1494" y1="851.67" x2="1498" y2="851.67" stroke="#000" stroke-width="1.5"/>
<line x1="1967" y1="851.67" x2="1963" y2="851.67" stroke="#000" stroke-width="1.5"/>
<line x1="1494" y1="786" x2="1498" y2="786" stroke="#000" stroke-width="1.5"/>
<line x1="1967" y1="786" x2="1963" y2="786" stroke="#000" stroke-width="1.5"/>
<line x1="1494" y1="720.33" x2="1498" y2="720.33" stroke="#000" stroke-width="1.5"/>
<line x1="1967" y1="720.33" x2="1963" y2="720.33" stroke="#000" stroke-width="1.5"/>
<line x1="1494" y1="654.67" x2="1498" y2="654.67" stroke="#000" stroke-width="1.5"/>
<line x1="1967" y1="654.67" x2="1963" y2="654.67" stroke="#000" stroke-width="1.5"/>
<line x1="1494" y1="613.2" x2="1967" y2="613.2" stroke="#000" stroke-width="4.5" stroke-linecap="round" stroke-dasharray="9.3 19.4" stroke-dashoffset="0.15" clip-path="url(#cf)"/>
<rect x="1494" y="589" width="473" height="394" fill="none" stroke="#000" stroke-width="1.5" stroke-linejoin="round"/>
<text x="1521.82" y="1010.6" font-size="26.4" text-anchor="middle" font-family="'Liberation Sans', Arial, Helvetica, sans-serif">0</text>
<text x="1577.47" y="1010.6" font-size="26.4" text-anchor="middle" font-family="'Liberation Sans', Arial, Helvetica, sans-serif">5</text>
<text x="1633.12" y="1010.6" font-size="26.4" text-anchor="middle" font-family="'Liberation Sans', Arial, Helvetica, sans-serif">10</text>
<text x="1688.76" y="1010.6" font-size="26.4" text-anchor="middle" font-family="'Liberation Sans', Arial, Helvetica, sans-serif">15</text>
<text x="1744.41" y="1010.6" font-size="26.4" text-anchor="middle" font-family="'Liberation Sans', Arial, Helvetica, sans-serif">20</text>
<text x="1800.06" y="1010.6" font-size="26.4" text-anchor="middle" font-family="'Liberation Sans', Arial, Helvetica, sans-serif">25</text>
<text x="1855.71" y="1010.6" font-size="26.4" text-anchor="middle" font-family="'Liberation Sans', Arial, Helvetica, sans-serif">30</text>
<text x="1911.35" y="1010.6" font-size="26.4" text-anchor="middle" font-family="'Liberation Sans', Arial, Helvetica, sans-serif">35</text>
<text x="1967" y="1010.6" font-size="26.4" text-anchor="middle" font-family="'Liberation Sans', Arial, Helvetica, sans-serif">40</text>
<text x="1485.6" y="958.97" font-size="29" text-anchor="end" font-family="'Liberation Sans', Arial, Helvetica, sans-serif">0.65</text>
<text x="1485.6" y="893.3" font-size="29" text-anchor="end" font-family="'Liberation Sans', Arial, Helvetica, sans-serif">0.70</text>
<text x="1485.6" y="827.63" font-size="29" text-anchor="end" font-family="'Liberation Sans', Arial, Helvetica, sans-serif">0.75</text>
<text x="1485.6" y="761.97" font-size="29" text-anchor="end" font-family="'Liberation Sans', Arial, Helvetica, sans-serif">0.80</text>
<text x="1485.6" y="696.3" font-size="29" text-anchor="end" font-family="'Liberation Sans', Arial, Helvetica, sans-serif">0.85</text>
<text x="1485.6" y="630.63" font-size="29" text-anchor="end" font-family="'Liberation Sans', Arial, Helvetica, sans-serif">0.90</text>
<rect x="1542.85" y="819.45" width="8.1" height="8.1" fill="none" stroke="#7a0000" stroke-width="1.9"/>
<rect x="1572.85" y="812.65" width="8.1" height="8.1" fill="none" stroke="#7a0000" stroke-width="1.9"/>
<rect x="1603.55" y="833.45" width="8.1" height="8.1" fill="none" stroke="#7a0000" stroke-width="1.9"/>
<rect x="1656.65" y="853.95" width="8.1" height="8.1" fill="none" stroke="#7a0000" stroke-width="1.9"/>
<rect x="1689.25" y="884.15" width="8.1" height="8.1" fill="none" stroke="#7a0000" stroke-width="1.9"/>
<rect x="1773.95" y="921.45" width="8.1" height="8.1" fill="none" stroke="#7a0000" stroke-width="1.9"/>
<rect x="1817.45" y="941.65" width="8.1" height="8.1" fill="none" stroke="#7a0000" stroke-width="1.9"/>
<rect x="1835.45" y="951.35" width="8.1" height="8.1" fill="none" stroke="#7a0000" stroke-width="1.9"/>
<rect x="1544.15" y="687.35" width="10.5" height="10.5" fill="#800000"/>
<rect x="1586.25" y="715.45" width="10.5" height="10.5" fill="#800000"/>
<rect x="1626.15" y="722.85" width="10.5" height="10.5" fill="#800000"/>
<rect x="1682.15" y="745.65" width="10.5" height="10.5" fill="#800000"/>
<rect x="1731.25" y="766.35" width="10.5" height="10.5" fill="#800000"/>
<rect x="1829.55" y="808.65" width="10.5" height="10.5" fill="#800000"/>
<rect x="1886.15" y="834.15" width="10.5" height="10.5" fill="#800000"/>
<rect x="1907.15" y="840.65" width="10.5" height="10.5" fill="#800000"/>
<rect x="1503.3" y="599.6" width="37.4" height="41.6" fill="#fff" stroke="#000" stroke-width="1.1"/>
<text x="1522.3" y="630.6" font-size="29.5" text-anchor="middle" font-family="'Liberation Sans', Arial, Helvetica, sans-serif">(f)</text>
<text transform="translate(30.7,279.2) rotate(-90)" x="0" y="0" font-size="40.5" font-family="'Liberation Sans', Arial, Helvetica, sans-serif" text-anchor="middle" letter-spacing="1.6">pdf</text>
<text transform="translate(30.5,811.4) rotate(-90)" x="0" y="0" font-size="40.5" font-family="'Liberation Sans', Arial, Helvetica, sans-serif" text-anchor="middle" letter-spacing="1.6">pdf</text>
<text y="534.9" font-size="37.8" font-family="'Liberation Sans', Arial, Helvetica, sans-serif"><tspan x="331" font-style="italic">v</tspan><tspan x="347.3" y="548.5" font-size="22.68">x</tspan><tspan x="368.4" y="534.9">(cm/s)</tspan></text>
<text y="1067.1" font-size="37.8" font-family="'Liberation Sans', Arial, Helvetica, sans-serif"><tspan x="331.3" font-style="italic">v</tspan><tspan x="347.8" y="1080.7" font-size="22.68">z</tspan><tspan x="368.6" y="1067.1">(cm/s)</tspan></text>
<text y="538.5" font-size="37.8" font-family="'Liberation Sans', Arial, Helvetica, sans-serif"><tspan x="1041" font-style="italic">v</tspan><tspan x="1067.8" y="538.5">(cm/s)</tspan></text>
<text y="1071.2" font-size="37.8" font-family="'Liberation Sans', Arial, Helvetica, sans-serif"><tspan x="1037.1" font-style="italic">v</tspan><tspan x="1064.1" y="1071.2">(cm/s)</tspan></text>
<text y="539.2" font-size="37.8" font-family="'Liberation Sans', Arial, Helvetica, sans-serif"><tspan x="1665.8" font-style="italic">v</tspan><tspan x="1692.8" y="539.2">(cm/s)</tspan></text>
<text y="1072.5" font-size="37.8" font-family="'Liberation Sans', Arial, Helvetica, sans-serif"><tspan x="1671.2" font-style="italic">v</tspan><tspan x="1697.7" y="1072.5">(cm/s)</tspan></text>
<text transform="translate(804.8,364.4) rotate(-90) translate(-2.47,1.8) scale(1.2,1)" font-size="34" font-family="'DejaVu Sans', 'Liberation Sans', sans-serif">&#x27E8;</text>
<text transform="translate(804.8,364.4) rotate(-90) translate(13,0)" font-size="33" font-family="'Liberation Sans', Arial, Helvetica, sans-serif" font-style="italic">l</text>
<text transform="translate(804.8,364.4) rotate(-90) translate(21.48,0)" font-size="32" font-family="'Liberation Sans', Arial, Helvetica, sans-serif" font-style="italic">v</text>
<text transform="translate(804.8,364.4) rotate(-90) translate(35.7,12.5)" font-size="19.5" font-family="'Liberation Sans', Arial, Helvetica, sans-serif">x</text>
<text transform="translate(804.8,364.4) rotate(-90) translate(45.53,0)" font-size="33" font-family="'Liberation Sans', Arial, Helvetica, sans-serif">|</text>
<text transform="translate(804.8,364.4) rotate(-90) translate(51.54,1.8) scale(1.2,1)" font-size="34" font-family="'DejaVu Sans', 'Liberation Sans', sans-serif">&#x27E9;</text>
<text transform="translate(804.8,364.4) rotate(-90) translate(73.47,0)" font-size="33.8" font-family="'Liberation Sans', Arial, Helvetica, sans-serif">(cm/s)</text>
<text transform="translate(806.2,864.9) rotate(-90) translate(-3.67,1.8) scale(1.2,1)" font-size="34" font-family="'DejaVu Sans', 'Liberation Sans', sans-serif">&#x27E8;</text>
<text transform="translate(806.2,864.9) rotate(-90) translate(11.48,0)" font-size="32" font-family="'Liberation Sans', Arial, Helvetica, sans-serif" font-style="italic">v</text>
<text transform="translate(806.2,864.9) rotate(-90) translate(25.42,12.5)" font-size="19.6" font-family="'Liberation Sans', Arial, Helvetica, sans-serif">z</text>
<text transform="translate(806.2,864.9) rotate(-90) translate(33.84,1.8) scale(1.2,1)" font-size="34" font-family="'DejaVu Sans', 'Liberation Sans', sans-serif">&#x27E9;</text>
<text transform="translate(806.2,864.9) rotate(-90) translate(55.87,0)" font-size="33.8" font-family="'Liberation Sans', Arial, Helvetica, sans-serif">(cm/s)</text>
<text transform="translate(1404.9,318) rotate(-90) translate(-0.3,0) scale(0.94,1)" font-size="34.3" font-family="'Liberation Sans', Arial, Helvetica, sans-serif">V</text>
<text transform="translate(1404.9,318) rotate(-90) translate(21.5,-15)" font-size="19.6" font-family="'Liberation Sans', Arial, Helvetica, sans-serif">&#x2212;</text>
<text transform="translate(1404.9,318) rotate(-90) translate(21.7,12.5)" font-size="19.6" font-family="'Liberation Sans', Arial, Helvetica, sans-serif">z</text>
<text transform="translate(1404.9,318) rotate(-90) translate(32.4,0.3)" font-size="33" font-family="'Liberation Sans', Arial, Helvetica, sans-serif">/</text>
<text transform="translate(1404.9,318) rotate(-90) translate(41.2,0) scale(0.94,1)" font-size="34.3" font-family="'Liberation Sans', Arial, Helvetica, sans-serif">V</text>
<text transform="translate(1404.9,318) rotate(-90) translate(64.1,-16.6)" font-size="19.6" font-family="'Liberation Sans', Arial, Helvetica, sans-serif">T</text>
<text transform="translate(1404.9,318) rotate(-90) translate(63.3,12.5)" font-size="19.6" font-family="'Liberation Sans', Arial, Helvetica, sans-serif">z</text>
<text transform="translate(1412.8,787.2) rotate(-90) translate(0,0)" font-size="33" font-family="'Liberation Serif', 'Times New Roman', serif">&#x3D5;</text>
<text x="1863.2" y="644.4" font-size="32.2" text-anchor="start" font-family="'Liberation Serif', 'Times New Roman', serif">&#x3D5;</text>
<text transform="translate(1887.6,646.1) scale(1.13,1)" font-size="33" font-family="'Liberation Serif', 'Times New Roman', serif">=</text>
<text x="1916.4" y="644.4" font-size="32.2" text-anchor="start" font-family="'Liberation Serif', 'Times New Roman', serif">&#x3D5;</text>
<text x="1933.2" y="654.9" font-size="20.4" text-anchor="start" font-family="'Liberation Sans', Arial, Helvetica, sans-serif">CP</text>
<rect x="432.5" y="0.5" width="346" height="180" fill="#fff" stroke="#2a2a2a" stroke-width="1"/>
<text transform="translate(465.5,86.2) rotate(-90)" font-size="31" font-family="'Liberation Sans', Arial, Helvetica, sans-serif" text-anchor="middle">No obstacle</text>
<text transform="translate(760.5,98) rotate(-90)" font-size="31" font-family="'Liberation Sans', Arial, Helvetica, sans-serif" text-anchor="middle">Obstacle</text>
<text y="42" font-size="28.8" font-family="'Liberation Sans', Arial, Helvetica, sans-serif"><tspan x="543.5" font-style="italic">v</tspan><tspan x="557.9" y="52.5" font-size="17" font-style="italic">b</tspan><tspan x="573.3" y="42">(cm/s) =</tspan></text>
<line x1="502.5" y1="76.3" x2="567" y2="76.3" stroke="#3453a5" stroke-width="5" stroke-linecap="round"/>
<line x1="647.4" y1="76.3" x2="708" y2="76.3" stroke="#3453a5" stroke-width="5.6" stroke-linecap="round" stroke-dasharray="0 12"/>
<text x="582.9" y="86.2" font-size="29" text-anchor="start" font-family="'Liberation Sans', Arial, Helvetica, sans-serif">0.26</text>
<line x1="502.5" y1="112.3" x2="567" y2="112.3" stroke="#05b0aa" stroke-width="5" stroke-linecap="round"/>
<line x1="647.4" y1="112.3" x2="708" y2="112.3" stroke="#05b0aa" stroke-width="5.6" stroke-linecap="round" stroke-dasharray="0 12"/>
<text x="582.9" y="122" font-size="29" text-anchor="start" font-family="'Liberation Sans', Arial, Helvetica, sans-serif">1.55</text>
<line x1="502.5" y1="148.3" x2="567" y2="148.3" stroke="#6c7314" stroke-width="5" stroke-linecap="round"/>
<line x1="647.4" y1="148.3" x2="708" y2="148.3" stroke="#6c7314" stroke-width="5.6" stroke-linecap="round" stroke-dasharray="0 12"/>
<text x="582.9" y="157.3" font-size="29" text-anchor="start" font-family="'Liberation Sans', Arial, Helvetica, sans-serif">3.73</text>
<text transform="translate(473.95,133.3) scale(0.657,1)" font-size="95.2" font-weight="bold" font-family="'Liberation Sans', Arial, Helvetica, sans-serif">{</text>
<text transform="translate(697.7,133.3) scale(0.684,1)" font-size="95.2" font-weight="bold" font-family="'Liberation Sans', Arial, Helvetica, sans-serif">}</text>
<rect x="1669.5" y="45.5" width="326" height="110" fill="#fff" stroke="#000" stroke-width="1.1"/>
<rect x="1721.5" y="73.5" width="10" height="10" fill="none" stroke="#952a2e" stroke-width="1"/>
<rect x="1721" y="118.9" width="10.8" height="10.8" fill="#800000"/>
<text x="1779.2" y="90.7" font-size="36.7" text-anchor="start" font-family="'Liberation Sans', Arial, Helvetica, sans-serif">Obstacle</text>
<text x="1778.8" y="136.6" font-size="36.7" text-anchor="start" font-family="'Liberation Sans', Arial, Helvetica, sans-serif">No Obstacle</text>
</svg>
</body></html>
